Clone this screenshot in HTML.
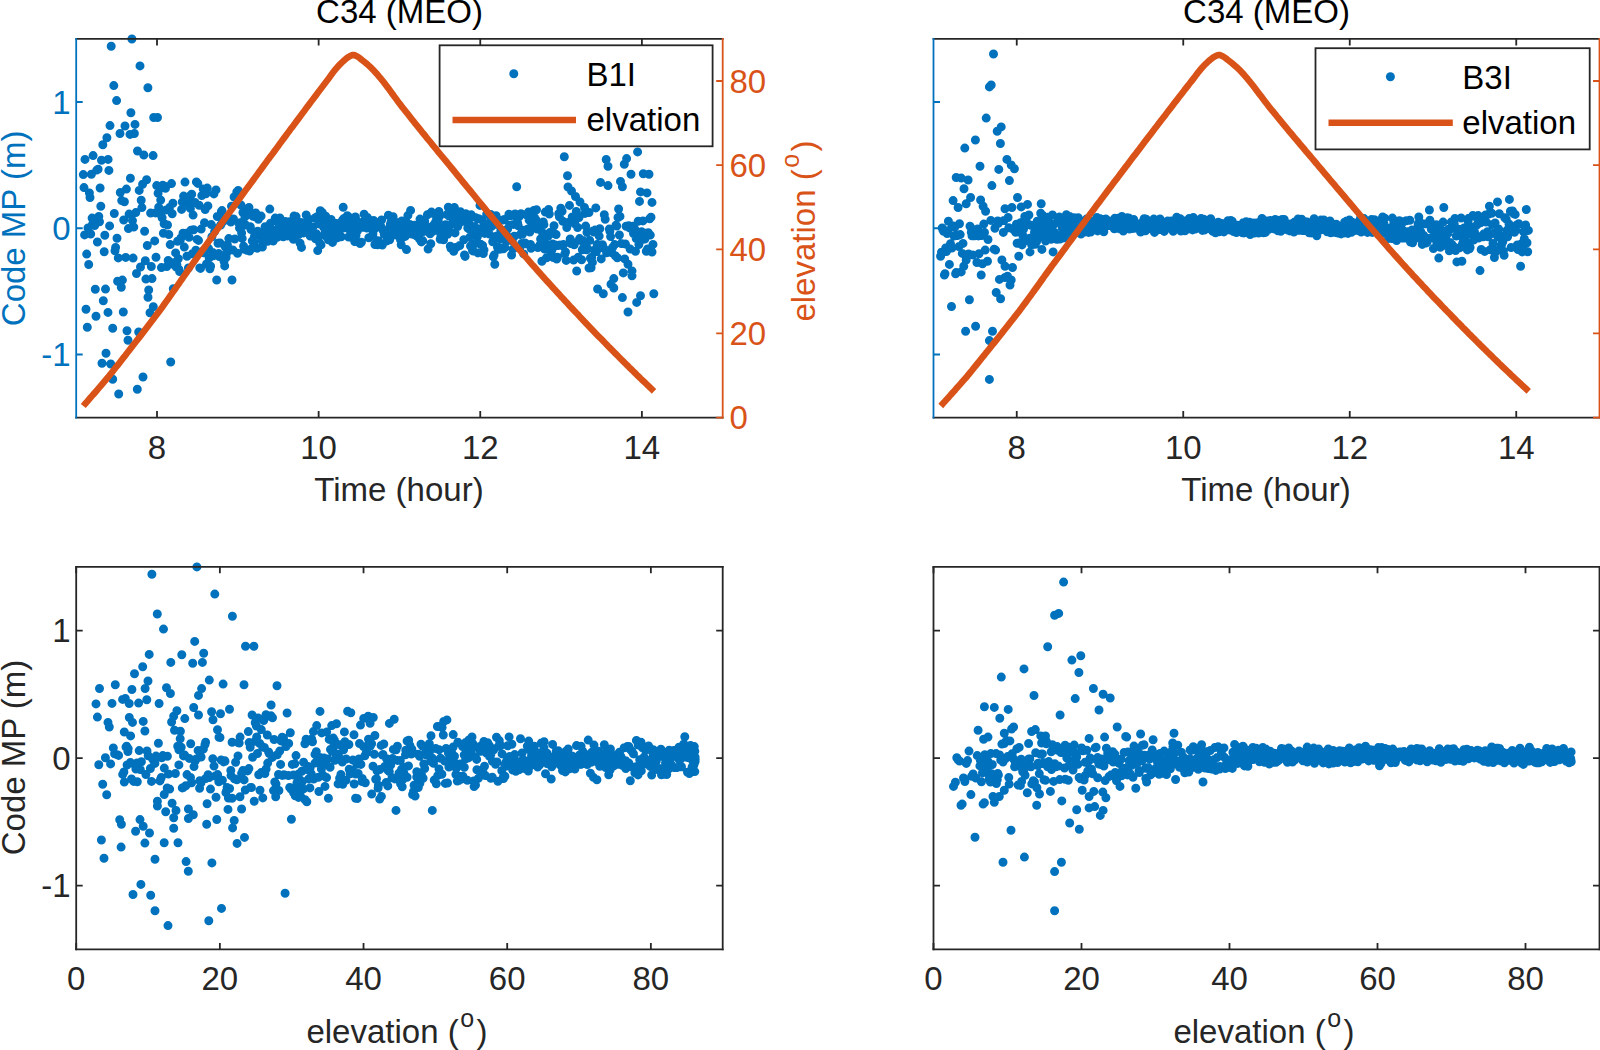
<!DOCTYPE html>
<html lang="en"><head><meta charset="utf-8"><title>C34 (MEO) code multipath</title>
<style>html,body{margin:0;padding:0;background:#fff;overflow:hidden}svg{display:block}</style></head>
<body>
<svg width="1600" height="1050" viewBox="0 0 1600 1050" font-family="'Liberation Sans', Arial, Helvetica, sans-serif" font-size="33">
<rect width="1600" height="1050" fill="#fff"/>
<g id="p1">
<path d="M83.3 174.6h0M84.0 187.6h0M84.6 234.9h0M85.0 159.4h0M86.0 309.3h0M86.7 254.1h0M87.3 327.3h0M88.0 227.9h0M88.7 264.5h0M89.4 192.9h0M90.0 197.5h0M90.7 234.0h0M91.4 174.2h0M92.1 218.1h0M92.7 224.0h0M93.1 155.6h0M94.1 225.0h0M94.7 225.6h0M95.3 289.3h0M96.0 316.3h0M96.8 170.1h0M97.4 242.0h0M98.1 169.2h0M98.8 216.5h0M99.5 221.8h0M100.1 188.0h0M100.8 206.3h0M101.5 160.3h0M102.0 363.3h0M102.8 144.8h0M103.3 300.7h0M104.2 251.7h0M104.8 235.3h0M105.5 289.1h0M106.0 353.3h0M106.9 137.8h0M108.1 159.4h0M108.0 312.4h0M108.9 170.4h0M109.6 225.9h0M110.0 125.6h0M110.7 364.0h0M111.2 46.2h0M112.7 328.3h0M112.7 379.3h0M113.8 85.6h0M114.3 213.5h0M115.0 250.8h0M115.6 247.4h0M116.6 100.6h0M117.0 238.2h0M117.6 281.3h0M118.3 257.9h0M118.7 394.0h0M120.0 133.5h0M120.3 192.5h0M121.3 287.3h0M121.7 200.6h0M122.4 280.1h0M123.3 312.0h0M123.7 220.0h0M124.4 201.7h0M125.0 126.0h0M125.7 257.4h0M126.4 189.1h0M127.0 330.7h0M128.0 340.3h0M128.4 228.6h0M129.1 214.1h0M130.0 134.4h0M130.4 178.2h0M130.9 112.8h0M131.9 39.0h0M132.5 220.6h0M133.1 258.1h0M133.8 227.1h0M134.4 133.5h0M135.0 124.4h0M135.8 212.6h0M136.5 273.5h0M137.3 389.3h0M137.5 151.0h0M138.7 332.0h0M139.2 190.4h0M140.0 65.9h0M140.5 267.0h0M141.2 200.2h0M141.9 207.6h0M142.6 184.3h0M143.0 377.0h0M143.8 155.0h0M144.6 231.3h0M145.3 260.8h0M145.9 279.1h0M146.6 179.8h0M147.3 245.5h0M147.9 87.8h0M148.0 297.3h0M148.7 290.0h0M150.0 312.7h0M150.6 213.1h0M151.3 266.5h0M152.0 278.6h0M153.3 306.7h0M153.1 155.6h0M153.7 117.5h0M154.7 240.9h0M155.4 212.9h0M156.0 257.3h0M156.7 185.6h0M157.5 117.5h0M158.1 193.3h0M158.7 207.3h0M159.4 188.7h0M160.1 213.8h0M160.7 200.1h0M161.4 267.6h0M162.1 217.8h0M162.8 185.3h0M163.4 233.2h0M164.1 223.8h0M164.8 186.2h0M165.5 188.3h0M166.1 209.9h0M166.8 266.6h0M167.5 225.0h0M168.2 260.4h0M168.8 234.5h0M169.5 207.6h0M170.2 244.6h0M170.7 362.0h0M171.5 183.6h0M172.2 213.8h0M172.9 203.2h0M173.3 288.7h0M174.2 262.5h0M174.9 265.5h0M175.6 252.9h0M176.2 267.1h0M176.9 264.8h0M177.6 241.2h0M178.3 258.8h0M178.9 269.4h0M179.6 271.5h0M180.3 240.0h0M180.9 237.9h0M181.6 209.4h0M182.3 202.0h0M183.0 233.2h0M183.6 196.1h0M184.3 247.1h0M185.0 182.1h0M185.7 203.3h0M186.3 233.3h0M187.0 256.2h0M187.7 202.5h0M188.4 268.0h0M189.0 237.2h0M189.7 196.1h0M190.4 208.4h0M191.0 230.3h0M191.7 194.2h0M192.4 253.8h0M193.1 215.1h0M193.7 229.7h0M194.4 254.1h0M195.1 202.4h0M195.8 250.2h0M196.4 181.9h0M197.1 239.4h0M197.8 183.4h0M198.5 240.4h0M199.1 205.2h0M199.8 267.9h0M200.5 268.4h0M201.2 229.1h0M201.8 195.6h0M202.5 251.4h0M203.2 188.9h0M203.8 252.7h0M204.5 222.7h0M205.2 209.6h0M205.9 193.8h0M206.5 263.9h0M207.2 188.1h0M207.9 205.9h0M208.6 248.6h0M209.2 258.0h0M209.9 268.8h0M210.6 266.2h0M211.3 224.6h0M211.9 236.7h0M212.6 252.4h0M213.3 255.8h0M213.9 193.9h0M214.6 231.6h0M215.3 228.6h0M216.0 189.9h0M216.7 280.0h0M217.3 216.5h0M218.0 243.2h0M218.7 253.6h0M219.3 256.6h0M220.0 243.0h0M220.7 225.0h0M221.4 211.4h0M222.0 210.6h0M222.7 221.7h0M223.4 219.4h0M224.0 261.3h0M224.7 265.9h0M225.4 247.0h0M226.1 257.5h0M226.7 253.0h0M227.4 244.7h0M228.1 248.2h0M228.8 238.6h0M229.4 220.8h0M230.1 218.5h0M230.8 222.0h0M231.5 206.2h0M232.0 280.0h0M232.8 250.0h0M233.5 218.9h0M234.1 197.0h0M234.8 239.0h0M235.5 196.8h0M236.2 198.1h0M236.8 192.0h0M237.5 253.3h0M238.2 190.5h0M238.9 223.3h0M239.5 228.1h0M240.2 222.7h0M240.9 205.0h0M241.6 233.0h0M242.2 238.4h0M242.9 212.5h0M243.6 246.2h0M244.3 249.2h0M244.9 216.9h0M245.6 225.0h0M246.3 212.8h0M246.9 250.2h0M247.6 210.3h0M248.3 214.3h0M249.0 207.4h0M249.6 251.0h0M250.3 226.8h0M251.0 229.6h0M251.7 248.4h0M252.3 240.9h0M253.0 216.2h0M253.7 242.5h0M254.4 236.4h0M255.0 216.8h0M255.7 213.0h0M256.4 215.7h0M257.0 248.2h0M257.7 231.3h0M258.4 219.2h0M259.1 234.3h0M259.7 232.1h0M260.4 216.6h0M261.1 216.1h0M261.8 240.8h0M262.4 247.1h0M263.1 235.0h0M263.8 236.2h0M264.5 232.6h0M265.1 226.7h0M265.8 232.7h0M266.5 240.2h0M267.1 230.1h0M267.8 241.3h0M268.5 234.7h0M269.2 234.0h0M269.8 209.1h0M270.5 223.2h0M271.2 234.0h0M271.9 233.6h0M272.5 231.5h0M273.2 241.1h0M273.9 236.3h0M274.6 230.6h0M275.2 218.1h0M275.9 233.0h0M276.6 235.2h0M277.2 237.2h0M277.9 235.4h0M278.6 223.2h0M279.3 223.7h0M279.9 218.0h0M280.6 232.6h0M281.3 223.4h0M282.0 227.4h0M282.6 228.6h0M283.3 236.8h0M284.0 234.6h0M284.7 226.4h0M285.3 221.4h0M286.0 228.4h0M286.7 226.7h0M287.4 235.9h0M288.0 234.4h0M288.7 234.2h0M289.4 221.8h0M290.0 228.6h0M290.7 229.6h0M291.4 232.1h0M292.1 226.1h0M292.7 230.6h0M293.4 239.2h0M294.1 215.9h0M294.8 231.0h0M295.4 230.8h0M296.1 216.6h0M296.8 221.3h0M297.5 228.9h0M298.1 227.2h0M298.8 234.6h0M299.5 229.5h0M300.1 243.2h0M300.8 222.5h0M301.5 247.4h0M302.2 222.9h0M302.8 230.2h0M303.5 232.9h0M304.2 225.2h0M304.9 225.7h0M305.5 223.9h0M306.2 215.0h0M306.9 224.7h0M307.6 225.2h0M308.2 232.3h0M308.9 219.2h0M309.6 228.4h0M310.2 236.1h0M310.9 230.4h0M311.6 231.2h0M312.3 234.4h0M312.9 227.0h0M313.6 232.8h0M314.3 235.6h0M315.0 218.0h0M315.6 238.7h0M316.3 233.8h0M317.0 216.7h0M317.7 250.6h0M318.3 237.1h0M319.0 223.9h0M319.7 242.9h0M320.3 210.8h0M321.0 244.9h0M321.7 213.6h0M322.4 212.6h0M323.0 218.1h0M323.7 227.2h0M324.4 220.5h0M325.1 232.8h0M325.7 216.2h0M326.4 236.5h0M327.1 231.0h0M327.8 224.7h0M328.4 239.8h0M329.1 231.3h0M329.8 223.5h0M330.5 238.6h0M331.1 219.5h0M331.8 226.8h0M332.5 242.4h0M333.1 233.1h0M333.8 236.4h0M334.5 239.0h0M335.2 230.4h0M335.8 235.1h0M336.5 223.5h0M337.2 237.7h0M337.9 226.5h0M338.5 226.7h0M339.2 224.4h0M339.9 229.8h0M340.6 229.4h0M341.2 236.7h0M341.9 226.8h0M342.6 220.0h0M343.2 207.2h0M343.9 218.5h0M344.6 227.3h0M345.3 227.7h0M345.9 223.5h0M346.6 222.5h0M347.3 215.7h0M348.0 219.1h0M348.6 237.0h0M349.3 229.3h0M350.0 217.8h0M350.7 231.8h0M351.3 233.4h0M352.0 221.4h0M352.7 227.4h0M353.3 229.5h0M354.0 231.5h0M354.7 241.6h0M355.4 216.9h0M356.0 235.4h0M356.7 228.9h0M357.4 230.9h0M358.1 222.1h0M358.7 228.4h0M359.4 228.0h0M360.1 243.5h0M360.8 227.1h0M361.4 242.3h0M362.1 224.4h0M362.8 222.3h0M363.5 227.2h0M364.1 214.2h0M364.8 225.7h0M365.5 223.3h0M366.1 225.2h0M366.8 228.1h0M367.5 217.6h0M368.2 219.8h0M368.8 237.7h0M369.5 224.2h0M370.2 224.4h0M370.9 220.7h0M371.5 225.8h0M372.2 235.4h0M372.9 234.3h0M373.6 220.4h0M374.2 229.4h0M374.9 244.5h0M375.6 225.7h0M376.2 224.7h0M376.9 240.6h0M377.6 244.8h0M378.3 240.8h0M378.9 225.5h0M379.6 226.7h0M380.3 226.0h0M381.0 226.7h0M381.6 220.0h0M382.3 245.0h0M383.0 230.3h0M383.7 231.5h0M384.3 234.4h0M385.0 233.4h0M385.7 231.6h0M386.3 232.8h0M387.0 240.9h0M387.7 229.8h0M388.4 215.3h0M389.0 236.4h0M389.7 239.7h0M390.4 224.1h0M391.1 221.6h0M391.7 219.8h0M392.4 233.2h0M393.1 216.7h0M393.8 230.9h0M394.4 230.7h0M395.1 234.9h0M395.8 226.8h0M396.4 222.5h0M397.1 224.2h0M397.8 231.4h0M398.5 227.6h0M399.1 232.0h0M399.8 225.5h0M400.5 239.8h0M401.2 244.7h0M401.8 220.9h0M402.5 237.6h0M403.2 230.7h0M403.9 231.0h0M404.5 235.2h0M405.2 236.4h0M405.9 221.5h0M406.5 249.6h0M407.2 223.1h0M407.9 215.4h0M408.6 231.2h0M409.2 232.4h0M409.9 224.4h0M410.6 210.4h0M411.3 233.9h0M411.9 226.8h0M412.6 233.6h0M413.3 229.8h0M414.0 234.5h0M414.6 225.2h0M415.3 234.6h0M416.0 229.4h0M416.7 236.0h0M417.3 234.6h0M418.0 226.5h0M418.7 229.9h0M419.3 238.8h0M420.0 219.1h0M420.7 228.8h0M421.4 241.9h0M422.0 224.3h0M422.7 240.6h0M423.4 231.6h0M424.1 231.1h0M424.7 221.0h0M425.4 227.3h0M426.1 230.9h0M426.8 226.6h0M427.4 214.7h0M428.1 249.0h0M428.8 230.1h0M429.4 228.3h0M430.1 233.7h0M430.8 243.7h0M431.5 212.1h0M432.1 231.7h0M432.8 213.4h0M433.5 225.1h0M434.2 226.3h0M434.8 223.8h0M435.5 222.1h0M436.2 216.6h0M436.9 230.2h0M437.5 226.2h0M438.2 220.4h0M438.9 211.4h0M439.5 216.3h0M440.2 239.2h0M440.9 235.9h0M441.6 229.7h0M442.2 238.2h0M442.9 231.7h0M443.6 239.8h0M444.3 233.4h0M444.9 232.5h0M445.6 224.8h0M446.3 231.4h0M447.0 214.6h0M447.6 234.3h0M448.3 207.3h0M449.0 216.1h0M449.7 231.7h0M450.3 246.2h0M451.0 248.4h0M451.7 224.1h0M452.3 215.8h0M453.0 210.9h0M453.7 251.2h0M454.4 207.5h0M455.0 232.9h0M455.7 220.0h0M456.4 247.3h0M457.1 224.5h0M457.7 226.6h0M458.4 217.2h0M459.1 223.4h0M459.8 245.5h0M460.4 211.8h0M461.1 214.9h0M461.8 221.5h0M462.4 216.6h0M463.1 218.4h0M463.8 239.8h0M464.5 255.0h0M465.1 256.4h0M465.8 213.7h0M466.5 219.9h0M467.2 221.0h0M467.8 228.0h0M468.5 222.3h0M469.2 229.1h0M469.9 237.2h0M470.5 246.1h0M471.2 214.8h0M471.9 234.0h0M472.5 250.5h0M473.2 251.0h0M473.9 244.4h0M474.6 226.5h0M475.2 217.4h0M475.9 232.0h0M476.6 231.6h0M477.3 237.0h0M477.9 252.9h0M478.6 218.7h0M479.3 231.2h0M480.0 205.4h0M480.6 244.3h0M481.3 228.4h0M482.0 220.1h0M482.6 245.5h0M483.3 253.6h0M484.0 250.0h0M484.7 233.4h0M485.3 228.1h0M486.0 231.5h0M486.7 214.1h0M487.4 225.0h0M488.0 225.2h0M488.7 223.4h0M489.4 234.1h0M490.1 216.3h0M490.7 214.5h0M491.4 226.5h0M492.1 224.4h0M492.7 241.7h0M493.4 256.9h0M494.1 255.1h0M494.8 264.3h0M495.4 224.3h0M496.1 215.8h0M496.8 235.9h0M497.5 247.2h0M498.1 220.5h0M498.8 237.3h0M499.5 249.2h0M500.2 239.3h0M500.8 230.8h0M501.5 248.6h0M502.2 230.5h0M502.9 220.1h0M503.5 248.8h0M504.2 219.6h0M504.9 247.6h0M505.5 235.2h0M506.2 241.5h0M506.9 240.4h0M507.6 229.0h0M508.2 236.9h0M508.9 214.3h0M509.6 225.2h0M510.3 215.7h0M510.9 239.5h0M511.6 255.0h0M512.3 240.8h0M513.0 249.1h0M513.6 224.4h0M514.3 236.3h0M515.0 214.0h0M515.6 216.3h0M516.3 214.6h0M516.7 186.8h0M517.7 223.1h0M518.3 225.9h0M519.0 216.7h0M519.7 248.4h0M520.4 234.5h0M521.0 213.8h0M521.7 243.4h0M522.4 234.3h0M523.1 244.1h0M523.7 253.9h0M524.4 230.2h0M525.1 242.9h0M525.7 243.7h0M526.4 214.8h0M527.1 214.4h0M527.8 229.1h0M528.4 212.1h0M529.1 220.0h0M529.8 232.1h0M530.5 244.4h0M531.1 248.3h0M531.8 224.6h0M532.5 224.1h0M533.2 224.1h0M533.8 210.5h0M534.5 217.4h0M535.2 221.2h0M535.9 219.7h0M536.5 209.8h0M537.2 229.1h0M537.9 247.6h0M538.5 246.9h0M539.2 228.1h0M539.9 245.0h0M540.6 239.0h0M541.2 227.6h0M541.9 261.3h0M542.6 233.0h0M543.3 221.9h0M543.9 224.6h0M544.6 249.1h0M545.3 212.1h0M546.0 243.8h0M546.6 257.8h0M547.3 248.9h0M548.0 236.3h0M548.6 209.5h0M549.3 214.0h0M550.0 232.4h0M550.7 251.4h0M551.3 254.5h0M552.0 249.8h0M552.7 244.1h0M553.4 257.6h0M554.0 225.8h0M554.7 233.8h0M555.4 245.0h0M556.1 234.5h0M556.7 259.0h0M557.4 257.2h0M558.1 245.6h0M558.7 213.8h0M559.4 216.7h0M560.1 244.9h0M560.8 208.3h0M561.4 245.4h0M562.1 211.2h0M562.8 221.3h0M563.5 244.5h0M564.3 156.7h0M564.8 253.9h0M565.5 251.9h0M566.2 260.4h0M566.8 227.5h0M567.5 175.7h0M568.0 187.0h0M568.8 222.2h0M569.5 205.4h0M570.2 239.0h0M570.9 243.6h0M571.5 191.0h0M572.2 217.0h0M572.9 242.6h0M573.6 260.1h0M574.2 244.7h0M574.9 223.7h0M575.5 196.5h0M576.3 211.5h0M576.7 271.0h0M577.6 227.5h0M578.3 257.3h0M579.0 217.6h0M579.6 238.6h0M580.0 202.0h0M581.0 240.5h0M581.6 259.8h0M582.3 249.8h0M583.0 240.6h0M583.7 243.4h0M584.5 207.5h0M585.0 213.4h0M585.7 226.1h0M586.4 249.7h0M587.0 232.4h0M587.7 248.8h0M589.0 268.0h0M589.0 212.5h0M589.7 240.4h0M590.4 258.3h0M591.1 267.7h0M591.7 257.2h0M592.4 262.4h0M593.1 230.9h0M593.8 232.0h0M594.4 250.2h0M595.1 230.1h0M595.8 207.9h0M596.5 251.6h0M597.1 244.6h0M597.6 289.0h0M598.5 246.1h0M599.2 236.1h0M599.8 228.8h0M600.5 182.4h0M601.2 258.9h0M601.8 247.5h0M602.5 244.8h0M603.3 293.8h0M603.9 248.4h0M604.3 214.8h0M605.2 219.3h0M606.2 159.5h0M606.6 252.7h0M607.2 250.6h0M608.0 185.6h0M608.0 166.2h0M609.3 229.1h0M609.9 231.3h0M610.6 236.6h0M611.0 284.3h0M611.9 252.7h0M612.6 247.4h0M613.8 288.0h0M613.8 278.6h0M614.6 244.6h0M615.3 255.7h0M616.0 225.3h0M616.7 226.0h0M617.3 257.8h0M618.0 217.5h0M618.6 209.0h0M619.4 235.0h0M620.0 216.4h0M620.5 181.4h0M621.4 243.5h0M622.4 186.8h0M622.4 297.6h0M623.3 272.9h0M624.3 164.3h0M624.7 258.9h0M625.4 244.0h0M626.1 226.3h0M626.6 158.6h0M628.0 264.3h0M628.0 312.0h0M628.8 225.8h0M629.5 227.9h0M630.1 249.0h0M631.0 174.2h0M632.0 275.7h0M632.0 271.0h0M632.8 226.3h0M633.5 233.5h0M634.2 231.3h0M634.8 229.1h0M635.5 251.3h0M636.2 238.6h0M636.7 302.4h0M637.6 151.9h0M638.2 221.2h0M638.9 244.5h0M639.5 201.4h0M640.5 295.7h0M640.5 191.9h0M641.6 231.8h0M642.3 239.5h0M642.9 220.9h0M643.3 173.8h0M644.3 233.1h0M644.9 239.1h0M645.6 235.0h0M646.3 251.3h0M647.0 192.9h0M647.6 248.9h0M648.3 232.7h0M649.0 174.2h0M649.7 218.8h0M650.3 235.1h0M651.0 217.3h0M652.0 202.4h0M652.0 252.0h0M653.0 244.4h0M653.8 293.8h0" stroke="#0072BD" stroke-width="9.0" stroke-linecap="round" fill="none"/>
<path d="M83.3 406.0L85.2 403.7L87.1 401.6L89.0 399.4L90.9 397.2L92.8 395.0L94.8 392.8L96.7 390.6L98.6 388.3L100.5 386.1L102.4 383.9L104.3 381.7L106.2 379.4L108.1 377.2L110.0 374.8L111.9 372.4L113.8 370.0L115.7 367.6L117.7 365.1L119.6 362.7L121.5 360.3L123.4 357.8L125.3 355.4L127.2 352.9L129.1 350.5L131.0 348.0L132.9 345.6L134.8 343.1L136.7 340.6L138.7 338.2L140.6 335.7L142.5 333.2L144.4 330.7L146.3 328.2L148.2 325.7L150.1 323.2L152.0 320.7L153.9 318.2L155.8 315.7L157.7 313.2L159.6 310.7L161.6 308.1L163.5 305.4L165.4 302.7L167.3 300.1L169.2 297.4L171.1 294.7L173.0 292.0L174.9 289.3L176.8 286.5L178.7 283.8L180.6 281.0L182.6 278.3L184.5 275.5L186.4 272.8L188.3 270.0L190.2 267.3L192.1 264.6L194.0 262.0L195.9 259.3L197.8 256.7L199.7 254.0L201.6 251.4L203.5 248.7L205.5 246.0L207.4 243.3L209.3 240.7L211.2 238.0L213.1 235.3L215.0 232.7L216.9 230.0L218.8 227.3L220.7 224.7L222.6 222.0L224.5 219.3L226.5 216.7L228.4 214.0L230.3 211.4L232.2 208.8L234.1 206.1L236.0 203.5L237.9 200.9L239.8 198.3L241.7 195.6L243.6 193.0L245.5 190.4L247.4 187.8L249.4 185.2L251.3 182.6L253.2 180.0L255.1 177.4L257.0 174.8L258.9 172.2L260.8 169.6L262.7 167.0L264.6 164.4L266.5 161.8L268.4 159.2L270.4 156.6L272.3 154.1L274.2 151.5L276.1 148.9L278.0 146.3L279.9 143.7L281.8 141.1L283.7 138.5L285.6 136.0L287.5 133.4L289.4 130.8L291.3 128.2L293.3 125.7L295.2 123.1L297.1 120.5L299.0 118.0L300.9 115.4L302.8 112.9L304.7 110.3L306.6 107.7L308.5 105.2L310.4 102.6L312.3 100.1L314.3 97.5L316.2 95.0L318.1 92.4L320.0 89.9L321.9 87.4L323.8 84.9L325.7 82.4L327.6 79.9L329.5 77.3L331.4 74.7L333.3 72.1L335.2 69.7L337.2 67.4L339.1 65.3L341.0 63.3L342.9 61.5L344.8 59.8L346.7 58.2L348.6 56.8L350.5 55.8L352.4 55.1L354.3 55.1L356.2 55.9L358.2 57.0L360.1 58.4L362.0 60.0L363.9 61.5L365.8 63.0L367.7 64.7L369.6 66.4L371.5 68.2L373.4 70.1L375.3 72.2L377.2 74.3L379.1 76.6L381.1 78.9L383.0 81.3L384.9 83.8L386.8 86.3L388.7 88.8L390.6 91.4L392.5 94.0L394.4 96.6L396.3 99.2L398.2 101.8L400.1 104.3L402.1 106.9L404.0 109.3L405.9 111.7L407.8 114.1L409.7 116.5L411.6 118.9L413.5 121.3L415.4 123.7L417.3 126.1L419.2 128.4L421.1 130.8L423.0 133.2L425.0 135.5L426.9 137.9L428.8 140.2L430.7 142.5L432.6 144.9L434.5 147.2L436.4 149.5L438.3 151.9L440.2 154.2L442.1 156.5L444.0 158.8L446.0 161.2L447.9 163.5L449.8 165.8L451.7 168.1L453.6 170.4L455.5 172.8L457.4 175.1L459.3 177.4L461.2 179.8L463.1 182.1L465.0 184.4L466.9 186.7L468.9 189.1L470.8 191.4L472.7 193.7L474.6 196.0L476.5 198.4L478.4 200.7L480.3 203.0L482.2 205.3L484.1 207.6L486.0 210.0L487.9 212.3L489.9 214.6L491.8 216.9L493.7 219.2L495.6 221.5L497.5 223.8L499.4 226.1L501.3 228.3L503.2 230.6L505.1 232.9L507.0 235.2L508.9 237.4L510.8 239.7L512.8 241.9L514.7 244.2L516.6 246.4L518.5 248.7L520.4 250.9L522.3 253.1L524.2 255.3L526.1 257.5L528.0 259.7L529.9 261.9L531.8 264.1L533.8 266.3L535.7 268.4L537.6 270.6L539.5 272.7L541.4 274.9L543.3 277.0L545.2 279.1L547.1 281.2L549.0 283.3L550.9 285.4L552.8 287.5L554.7 289.6L556.7 291.7L558.6 293.8L560.5 295.9L562.4 297.9L564.3 300.0L566.2 302.1L568.1 304.1L570.0 306.2L571.9 308.2L573.8 310.3L575.7 312.3L577.7 314.3L579.6 316.4L581.5 318.4L583.4 320.4L585.3 322.4L587.2 324.4L589.1 326.4L591.0 328.4L592.9 330.4L594.8 332.4L596.7 334.4L598.6 336.4L600.6 338.3L602.5 340.3L604.4 342.3L606.3 344.2L608.2 346.2L610.1 348.1L612.0 350.0L613.9 352.0L615.8 353.9L617.7 355.8L619.6 357.7L621.6 359.7L623.5 361.6L625.4 363.5L627.3 365.4L629.2 367.3L631.1 369.1L633.0 371.0L634.9 372.9L636.8 374.8L638.7 376.6L640.6 378.5L642.5 380.3L644.5 382.2L646.4 384.0L648.3 385.8L650.2 387.7L652.1 389.5L654.0 391.3" stroke="#D95319" stroke-width="6.5" stroke-linejoin="round" stroke-linecap="butt" fill="none"/>
<path d="M75.3 38.9H723.6" stroke="#262626" stroke-width="1.8" fill="none"/><path d="M157.01 38.9v6.5M318.64 38.9v6.5M480.26 38.9v6.5M641.89 38.9v6.5" stroke="#262626" stroke-width="1.8" fill="none"/><path d="M75.3 417.6H723.6" stroke="#262626" stroke-width="1.8" fill="none"/><path d="M157.01 417.6v-6.5M318.64 417.6v-6.5M480.26 417.6v-6.5M641.89 417.6v-6.5" stroke="#262626" stroke-width="1.8" fill="none"/><path d="M76.2 38V418.5" stroke="#0072BD" stroke-width="1.8" fill="none"/><path d="M76.2 354.48h6.5M76.2 228.25h6.5M76.2 102.02h6.5" stroke="#0072BD" stroke-width="1.8" fill="none"/><path d="M722.7 38V418.5" stroke="#D95319" stroke-width="1.8" fill="none"/><path d="M722.7 417.6h-6.5M722.7 333.44h-6.5M722.7 249.29h-6.5M722.7 165.13h-6.5M722.7 80.98h-6.5" stroke="#D95319" stroke-width="1.8" fill="none"/>
<text x="157.01" y="459.3" text-anchor="middle" fill="#262626">8</text><text x="318.64" y="459.3" text-anchor="middle" fill="#262626">10</text><text x="480.26" y="459.3" text-anchor="middle" fill="#262626">12</text><text x="641.89" y="459.3" text-anchor="middle" fill="#262626">14</text>
<text x="70.5" y="366.18" text-anchor="end" fill="#0072BD">-1</text><text x="70.5" y="239.95" text-anchor="end" fill="#0072BD">0</text><text x="70.5" y="113.72" text-anchor="end" fill="#0072BD">1</text>
<text x="729.5" y="429.3" text-anchor="start" fill="#D95319">0</text><text x="729.5" y="345.14" text-anchor="start" fill="#D95319">20</text><text x="729.5" y="260.99" text-anchor="start" fill="#D95319">40</text><text x="729.5" y="176.83" text-anchor="start" fill="#D95319">60</text><text x="729.5" y="92.68" text-anchor="start" fill="#D95319">80</text>
<text x="399.5" y="23.3" text-anchor="middle" fill="#000">C34 (MEO)</text>
<text x="399" y="501.2" text-anchor="middle" fill="#262626">Time (hour)</text>
<text transform="translate(24.5 228.4) rotate(-90)" text-anchor="middle" fill="#0072BD">Code MP (m)</text>
<text transform="translate(814.8 231) rotate(-90)" text-anchor="middle" fill="#D95319">elevation (<tspan font-size="25" dx="1.5" dy="-16">o</tspan><tspan dx="2.5" dy="16">)</tspan></text>
<rect x="439.6" y="45.3" width="273" height="101" fill="#fff" stroke="#262626" stroke-width="1.8"/>
<path d="M513.8 73.8h0" stroke="#0072BD" stroke-width="9.0" stroke-linecap="round"/>
<path d="M452.5 120H576" stroke="#D95319" stroke-width="6.5"/>
<text x="586.5" y="86" font-size="33" fill="#000">B1I</text>
<text x="586.5" y="131" font-size="33" fill="#000">elvation</text>
</g>
<g id="p2">
<path d="M940.6 256.2h0M941.5 252.2h0M942.2 228.0h0M942.9 230.0h0M943.6 231.2h0M944.4 275.0h0M945.0 273.8h0M945.7 247.9h0M946.4 251.5h0M947.1 233.5h0M947.8 230.7h0M948.4 221.3h0M949.4 264.4h0M949.8 246.3h0M950.5 243.8h0M951.5 306.5h0M951.9 248.0h0M952.6 225.7h0M953.1 200.6h0M954.0 236.0h0M954.7 227.3h0M955.6 273.8h0M956.2 177.5h0M956.2 272.5h0M957.5 235.6h0M958.1 207.5h0M958.9 246.6h0M959.5 223.7h0M960.2 234.6h0M961.2 271.9h0M961.2 178.1h0M962.3 253.4h0M963.0 243.4h0M963.8 266.2h0M964.0 188.8h0M964.8 148.1h0M965.6 331.2h0M966.2 260.0h0M966.2 203.7h0M968.1 180.0h0M968.6 254.0h0M969.4 299.8h0M970.0 226.3h0M970.6 197.5h0M971.3 232.2h0M972.0 235.7h0M972.7 254.9h0M973.4 233.1h0M974.1 229.5h0M974.8 235.7h0M975.4 140.0h0M975.6 326.2h0M976.9 262.5h0M977.6 229.0h0M978.3 235.9h0M979.0 253.8h0M980.0 166.2h0M980.6 200.0h0M981.2 275.0h0M981.7 235.6h0M982.5 263.8h0M983.1 206.2h0M983.8 224.1h0M984.5 232.5h0M985.2 250.1h0M985.6 211.2h0M986.2 118.1h0M987.5 261.2h0M988.0 239.5h0M989.4 86.9h0M989.4 340.6h0M989.4 379.4h0M990.8 220.4h0M991.2 85.0h0M991.9 185.6h0M992.5 331.2h0M993.5 54.0h0M994.2 249.3h0M994.9 228.2h0M995.6 250.1h0M996.2 292.5h0M997.2 131.2h0M997.7 220.9h0M998.4 223.2h0M998.8 169.4h0M999.4 279.4h0M1000.4 143.5h0M1000.6 298.8h0M1001.2 126.9h0M1001.9 260.0h0M1003.3 232.4h0M1003.9 220.5h0M1005.0 277.5h0M1005.0 208.7h0M1005.0 266.2h0M1006.9 159.4h0M1007.5 276.2h0M1008.1 217.5h0M1008.8 227.7h0M1009.4 180.6h0M1010.0 285.0h0M1011.2 165.0h0M1011.2 280.0h0M1011.9 207.5h0M1012.5 267.5h0M1013.7 229.8h0M1014.4 168.8h0M1015.0 228.4h0M1015.7 232.2h0M1016.4 224.2h0M1017.1 243.2h0M1017.5 197.5h0M1018.8 256.2h0M1019.2 229.3h0M1019.9 242.8h0M1020.6 222.7h0M1021.2 206.9h0M1022.0 244.9h0M1022.7 235.3h0M1023.4 229.4h0M1024.1 227.5h0M1024.8 216.4h0M1025.5 221.6h0M1026.1 220.7h0M1026.8 240.6h0M1027.5 204.4h0M1028.2 215.5h0M1028.9 215.0h0M1029.6 238.3h0M1030.0 251.9h0M1031.0 225.2h0M1031.7 244.9h0M1032.4 243.4h0M1033.1 225.6h0M1033.8 225.2h0M1034.5 232.2h0M1035.2 244.2h0M1035.9 229.7h0M1036.6 241.6h0M1037.2 221.3h0M1037.9 237.7h0M1038.6 233.4h0M1039.3 227.8h0M1040.0 236.0h0M1040.7 213.3h0M1041.2 203.7h0M1041.9 249.4h0M1042.8 215.5h0M1043.5 231.2h0M1044.2 222.4h0M1044.9 226.8h0M1045.6 241.1h0M1046.3 234.7h0M1047.0 229.6h0M1047.7 228.9h0M1048.3 220.4h0M1049.0 217.1h0M1049.7 237.3h0M1050.4 229.0h0M1051.1 239.3h0M1051.8 224.2h0M1052.5 215.0h0M1053.1 251.9h0M1053.9 224.2h0M1054.6 232.4h0M1055.3 238.6h0M1056.0 234.4h0M1056.7 239.2h0M1057.4 239.3h0M1058.1 217.8h0M1058.8 237.0h0M1059.4 217.1h0M1060.1 239.0h0M1060.8 223.9h0M1061.5 237.8h0M1062.2 227.8h0M1062.9 238.1h0M1063.6 230.9h0M1064.3 235.4h0M1065.0 237.8h0M1065.7 222.5h0M1066.4 214.7h0M1067.1 229.4h0M1067.8 218.5h0M1068.5 222.3h0M1069.2 223.9h0M1069.9 216.6h0M1070.5 236.0h0M1071.2 227.9h0M1071.9 236.4h0M1072.6 228.9h0M1073.3 227.2h0M1074.0 217.8h0M1074.7 227.4h0M1075.4 218.5h0M1076.1 221.1h0M1076.8 231.9h0M1077.5 228.2h0M1078.2 217.7h0M1078.9 227.2h0M1079.6 227.6h0M1080.3 224.0h0M1081.0 234.1h0M1081.6 231.8h0M1082.3 227.8h0M1083.0 228.4h0M1083.7 232.4h0M1084.4 229.7h0M1085.1 228.2h0M1085.8 224.7h0M1086.5 219.1h0M1087.2 225.0h0M1087.9 225.2h0M1088.6 232.4h0M1089.3 229.8h0M1090.0 225.2h0M1090.7 232.1h0M1091.4 226.4h0M1092.1 224.9h0M1092.7 226.7h0M1093.4 221.2h0M1094.1 227.4h0M1094.8 227.4h0M1095.5 226.4h0M1096.2 221.7h0M1096.9 217.4h0M1097.6 230.9h0M1098.3 224.3h0M1099.0 225.4h0M1099.7 218.4h0M1100.4 224.6h0M1101.1 229.5h0M1101.8 219.3h0M1102.5 228.7h0M1103.2 226.7h0M1103.8 231.7h0M1104.5 227.4h0M1105.2 224.9h0M1105.9 219.1h0M1106.6 220.8h0M1107.3 221.9h0M1108.0 220.7h0M1108.7 223.6h0M1109.4 225.5h0M1110.1 222.9h0M1110.8 220.9h0M1111.5 224.0h0M1112.2 221.5h0M1112.9 222.2h0M1113.6 223.8h0M1114.3 228.8h0M1114.9 218.2h0M1115.6 224.7h0M1116.3 221.7h0M1117.0 226.3h0M1117.7 220.0h0M1118.4 228.3h0M1119.1 218.0h0M1119.8 226.9h0M1120.5 229.1h0M1121.2 228.5h0M1121.9 216.4h0M1122.6 222.9h0M1123.3 231.0h0M1124.0 225.9h0M1124.7 220.2h0M1125.4 228.3h0M1126.0 224.4h0M1126.7 225.9h0M1127.4 217.8h0M1128.1 227.2h0M1128.8 217.9h0M1129.5 229.1h0M1130.2 228.7h0M1130.9 224.2h0M1131.6 219.8h0M1132.3 228.5h0M1133.0 222.3h0M1133.7 219.4h0M1134.4 228.2h0M1135.1 223.1h0M1135.8 223.0h0M1136.5 226.9h0M1137.1 225.4h0M1137.8 226.1h0M1138.5 226.3h0M1139.2 226.5h0M1139.9 225.8h0M1140.6 232.0h0M1141.3 225.7h0M1142.0 224.1h0M1142.7 227.7h0M1143.4 220.6h0M1144.1 218.8h0M1144.8 220.6h0M1145.5 230.8h0M1146.2 219.2h0M1146.9 226.3h0M1147.6 222.2h0M1148.2 227.9h0M1148.9 224.2h0M1149.6 221.1h0M1150.3 224.1h0M1151.0 223.4h0M1151.7 227.8h0M1152.4 229.5h0M1153.1 223.1h0M1153.8 219.1h0M1154.5 232.4h0M1155.2 226.3h0M1155.9 228.1h0M1156.6 229.7h0M1157.3 223.3h0M1158.0 220.8h0M1158.7 229.5h0M1159.3 229.5h0M1160.0 219.0h0M1160.7 221.4h0M1161.4 222.4h0M1162.1 225.2h0M1162.8 224.7h0M1163.5 227.3h0M1164.2 231.4h0M1164.9 229.1h0M1165.6 225.6h0M1166.3 223.5h0M1167.0 226.7h0M1167.7 220.9h0M1168.4 222.3h0M1169.1 228.0h0M1169.8 225.8h0M1170.4 226.5h0M1171.1 221.0h0M1171.8 222.5h0M1172.5 228.8h0M1173.2 231.3h0M1173.9 221.3h0M1174.6 228.3h0M1175.3 222.3h0M1176.0 225.3h0M1176.7 217.3h0M1177.4 226.6h0M1178.1 220.0h0M1178.8 225.8h0M1179.5 218.6h0M1180.2 218.7h0M1180.9 231.1h0M1181.5 225.3h0M1182.2 223.2h0M1182.9 227.3h0M1183.6 224.9h0M1184.3 229.1h0M1185.0 230.7h0M1185.7 220.7h0M1186.4 223.4h0M1187.1 227.0h0M1187.8 228.5h0M1188.5 221.0h0M1189.2 218.5h0M1189.9 223.1h0M1190.6 229.0h0M1191.3 228.3h0M1192.0 222.5h0M1192.6 229.9h0M1193.3 217.5h0M1194.0 223.2h0M1194.7 222.5h0M1195.4 229.1h0M1196.1 224.4h0M1196.8 225.9h0M1197.5 223.5h0M1198.2 225.3h0M1198.9 227.6h0M1199.6 223.4h0M1200.3 223.7h0M1201.0 218.6h0M1201.7 229.3h0M1202.4 230.4h0M1203.1 229.1h0M1203.7 219.2h0M1204.4 230.1h0M1205.1 224.2h0M1205.8 226.8h0M1206.5 224.0h0M1207.2 225.9h0M1207.9 228.5h0M1208.6 225.2h0M1209.3 222.0h0M1210.0 220.1h0M1210.7 218.7h0M1211.4 222.2h0M1212.1 227.3h0M1212.8 231.4h0M1213.5 222.9h0M1214.2 230.2h0M1214.8 227.3h0M1215.5 232.8h0M1216.2 227.6h0M1216.9 230.0h0M1217.6 230.8h0M1218.3 222.2h0M1219.0 231.8h0M1219.7 231.0h0M1220.4 228.6h0M1221.1 229.3h0M1221.8 223.6h0M1222.5 231.1h0M1223.2 227.5h0M1223.9 231.9h0M1224.6 230.7h0M1225.3 227.0h0M1225.9 226.7h0M1226.6 227.3h0M1227.3 226.8h0M1228.0 220.8h0M1228.7 226.9h0M1229.4 226.6h0M1230.1 230.0h0M1230.8 220.5h0M1231.5 223.9h0M1232.2 221.3h0M1232.9 226.7h0M1233.6 231.6h0M1234.3 227.2h0M1235.0 225.6h0M1235.7 229.2h0M1236.4 232.5h0M1237.0 230.9h0M1237.7 225.2h0M1238.4 226.0h0M1239.1 229.5h0M1239.8 225.7h0M1240.5 226.5h0M1241.2 231.8h0M1241.9 230.1h0M1242.6 232.8h0M1243.3 222.8h0M1244.0 232.9h0M1244.7 232.5h0M1245.4 229.8h0M1246.1 221.8h0M1246.8 229.8h0M1247.5 231.1h0M1248.1 223.9h0M1248.8 224.0h0M1249.5 222.3h0M1250.2 234.5h0M1250.9 233.5h0M1251.6 227.4h0M1252.3 224.9h0M1253.0 225.7h0M1253.7 223.0h0M1254.4 233.1h0M1255.1 228.4h0M1255.8 227.2h0M1256.5 223.1h0M1257.2 228.0h0M1257.9 227.5h0M1258.6 233.0h0M1259.2 222.5h0M1259.9 222.5h0M1260.6 221.7h0M1261.3 230.3h0M1262.0 218.5h0M1262.7 230.8h0M1263.4 232.7h0M1264.1 229.7h0M1264.8 231.3h0M1265.5 232.4h0M1266.2 229.2h0M1266.9 221.0h0M1267.6 225.2h0M1268.3 224.6h0M1269.0 229.4h0M1269.7 228.5h0M1270.3 220.4h0M1271.0 227.2h0M1271.7 226.7h0M1272.4 223.0h0M1273.1 224.8h0M1273.8 220.9h0M1274.5 229.0h0M1275.2 219.5h0M1275.9 221.1h0M1276.6 220.1h0M1277.3 226.0h0M1278.0 230.7h0M1278.7 230.6h0M1279.4 224.9h0M1280.1 227.3h0M1280.8 231.2h0M1281.4 227.3h0M1282.1 219.4h0M1282.8 229.3h0M1283.5 222.4h0M1284.2 219.4h0M1284.9 229.2h0M1285.6 222.8h0M1286.3 228.1h0M1287.0 228.4h0M1287.7 228.4h0M1288.4 230.2h0M1289.1 226.2h0M1289.8 230.9h0M1290.5 223.9h0M1291.2 230.1h0M1291.9 227.7h0M1292.5 226.1h0M1293.2 230.2h0M1293.9 232.0h0M1294.6 222.1h0M1295.3 226.3h0M1296.0 228.1h0M1296.7 226.5h0M1297.4 221.2h0M1298.1 219.0h0M1298.8 230.3h0M1299.5 220.6h0M1300.2 221.4h0M1300.9 226.4h0M1301.6 219.2h0M1302.3 230.5h0M1303.0 224.6h0M1303.6 226.7h0M1304.3 230.6h0M1305.0 221.7h0M1305.7 224.8h0M1306.4 222.2h0M1307.1 222.1h0M1307.8 227.2h0M1308.5 229.2h0M1309.2 232.7h0M1309.9 227.5h0M1310.6 227.7h0M1311.3 232.9h0M1312.0 230.8h0M1312.7 223.8h0M1313.4 227.0h0M1314.1 218.8h0M1314.7 220.6h0M1315.4 230.8h0M1316.1 233.6h0M1316.8 235.8h0M1317.5 231.4h0M1318.2 222.3h0M1318.9 227.9h0M1319.6 230.4h0M1320.3 225.6h0M1321.0 220.1h0M1321.7 227.9h0M1322.4 229.5h0M1323.1 225.1h0M1323.8 219.9h0M1324.5 226.4h0M1325.2 222.2h0M1325.8 229.0h0M1326.5 223.8h0M1327.2 231.8h0M1327.9 221.9h0M1328.6 223.1h0M1329.3 231.6h0M1330.0 221.0h0M1330.7 232.8h0M1331.4 223.2h0M1332.1 226.2h0M1332.8 230.6h0M1333.5 232.2h0M1334.2 228.7h0M1334.9 228.2h0M1335.6 230.0h0M1336.3 224.2h0M1336.9 232.7h0M1337.6 228.6h0M1338.3 229.4h0M1339.0 233.2h0M1339.7 227.3h0M1340.4 228.9h0M1341.1 233.9h0M1341.8 229.7h0M1342.5 231.2h0M1343.2 226.1h0M1343.9 233.0h0M1344.6 222.3h0M1345.3 222.5h0M1346.0 224.3h0M1346.7 220.9h0M1347.4 226.3h0M1348.0 233.4h0M1348.7 220.4h0M1349.4 220.0h0M1350.1 224.2h0M1350.8 225.5h0M1351.5 232.2h0M1352.2 222.3h0M1352.9 224.8h0M1353.6 230.8h0M1354.3 229.0h0M1355.0 223.9h0M1355.7 225.3h0M1356.4 223.5h0M1357.1 224.6h0M1357.8 230.6h0M1358.5 225.9h0M1359.1 221.1h0M1359.8 222.8h0M1360.5 218.2h0M1361.2 232.1h0M1361.9 227.0h0M1362.6 220.3h0M1363.3 222.3h0M1364.0 218.6h0M1364.7 229.1h0M1365.4 230.4h0M1366.1 231.3h0M1366.8 223.7h0M1367.5 232.4h0M1368.2 223.2h0M1368.9 224.0h0M1369.6 221.5h0M1370.2 231.4h0M1370.9 225.7h0M1371.6 219.4h0M1372.3 232.4h0M1373.0 224.5h0M1373.7 223.6h0M1374.4 219.8h0M1375.1 223.9h0M1375.8 222.5h0M1376.5 228.9h0M1377.2 227.2h0M1377.9 229.7h0M1378.6 223.6h0M1379.3 228.3h0M1380.0 220.5h0M1380.7 233.9h0M1381.3 220.7h0M1382.0 226.9h0M1382.7 216.9h0M1383.4 230.6h0M1384.1 224.2h0M1384.8 218.2h0M1385.5 233.5h0M1386.2 228.3h0M1386.9 228.3h0M1387.6 230.2h0M1388.3 238.5h0M1389.0 229.9h0M1389.7 232.4h0M1390.4 234.9h0M1391.1 232.4h0M1391.8 238.6h0M1392.4 218.1h0M1393.1 225.6h0M1393.8 221.4h0M1394.5 236.7h0M1395.2 238.7h0M1395.9 227.8h0M1396.6 240.5h0M1397.3 229.5h0M1398.0 233.7h0M1398.7 232.3h0M1399.4 220.8h0M1400.1 230.1h0M1400.8 221.8h0M1401.5 224.2h0M1402.2 238.1h0M1402.9 222.0h0M1403.5 236.8h0M1404.2 231.3h0M1404.9 238.1h0M1405.6 232.6h0M1406.3 220.8h0M1407.0 236.9h0M1407.7 237.2h0M1408.4 232.6h0M1409.1 231.5h0M1409.8 220.2h0M1410.5 242.1h0M1411.2 239.9h0M1411.9 230.1h0M1412.6 242.7h0M1413.3 239.4h0M1414.0 230.2h0M1414.6 235.2h0M1415.3 237.3h0M1416.0 232.8h0M1416.7 231.3h0M1417.4 233.1h0M1418.1 223.7h0M1418.8 217.0h0M1419.5 221.5h0M1420.2 238.8h0M1420.9 232.0h0M1421.6 224.2h0M1422.3 244.4h0M1423.0 238.9h0M1423.7 235.4h0M1424.4 243.2h0M1425.1 237.6h0M1425.7 223.7h0M1426.4 242.9h0M1427.1 242.0h0M1427.8 238.2h0M1428.5 239.3h0M1429.4 210.0h0M1429.9 220.2h0M1430.6 226.1h0M1431.3 229.2h0M1432.0 237.8h0M1432.7 237.8h0M1433.4 248.6h0M1434.1 225.4h0M1434.8 227.4h0M1435.5 230.8h0M1436.2 224.8h0M1436.8 242.5h0M1437.5 225.8h0M1438.2 233.8h0M1438.8 258.1h0M1439.6 225.0h0M1440.3 247.2h0M1441.0 235.2h0M1441.7 243.9h0M1442.4 230.7h0M1443.1 222.1h0M1443.8 207.5h0M1444.5 243.0h0M1445.2 238.5h0M1445.9 238.3h0M1446.6 245.8h0M1447.3 243.1h0M1447.9 233.4h0M1448.6 229.2h0M1449.3 250.7h0M1450.0 242.5h0M1450.7 229.0h0M1451.4 222.0h0M1452.1 244.7h0M1452.8 225.3h0M1453.5 246.5h0M1454.2 223.7h0M1454.9 218.4h0M1455.6 250.5h0M1456.3 236.1h0M1456.9 261.9h0M1457.7 229.1h0M1458.4 234.5h0M1459.0 234.2h0M1459.7 247.7h0M1460.4 229.6h0M1461.1 218.0h0M1461.9 261.2h0M1462.5 243.7h0M1463.2 239.3h0M1463.9 228.1h0M1464.6 231.0h0M1465.3 240.9h0M1466.0 232.6h0M1466.7 245.4h0M1467.4 249.9h0M1468.1 221.0h0M1468.8 218.2h0M1469.5 248.7h0M1470.1 247.4h0M1470.8 234.3h0M1471.5 227.0h0M1472.2 230.5h0M1472.9 215.4h0M1473.6 240.0h0M1474.3 230.9h0M1475.0 233.5h0M1475.7 235.0h0M1476.4 217.4h0M1477.1 224.7h0M1478.1 215.6h0M1478.5 238.1h0M1479.2 221.9h0M1480.0 270.6h0M1480.6 222.8h0M1481.2 249.5h0M1481.9 236.1h0M1482.6 216.8h0M1483.3 236.7h0M1484.0 233.8h0M1484.7 251.4h0M1485.4 215.1h0M1486.1 222.0h0M1486.8 233.4h0M1487.5 231.7h0M1488.2 236.8h0M1488.9 214.0h0M1489.4 206.2h0M1490.3 249.7h0M1491.0 233.7h0M1491.7 213.3h0M1492.3 224.5h0M1493.0 243.5h0M1493.7 233.3h0M1494.4 257.5h0M1495.1 222.9h0M1495.8 251.8h0M1496.5 250.6h0M1497.5 201.9h0M1497.9 236.9h0M1498.6 229.0h0M1499.3 213.8h0M1500.0 236.2h0M1500.7 236.1h0M1501.4 245.2h0M1502.1 242.9h0M1502.8 241.8h0M1503.4 251.3h0M1504.1 255.3h0M1504.8 217.7h0M1505.5 236.0h0M1506.2 219.1h0M1506.9 230.5h0M1507.6 236.8h0M1508.3 228.9h0M1509.0 223.9h0M1509.4 199.4h0M1510.4 211.3h0M1511.1 247.5h0M1511.8 226.8h0M1512.5 210.9h0M1513.2 229.0h0M1513.9 213.9h0M1514.5 232.2h0M1515.2 214.4h0M1515.9 230.2h0M1516.6 225.1h0M1517.3 244.9h0M1518.0 249.6h0M1518.7 223.8h0M1519.4 248.7h0M1520.1 247.1h0M1520.6 266.2h0M1521.5 243.8h0M1522.2 251.9h0M1522.9 249.2h0M1523.6 231.7h0M1524.3 238.7h0M1525.0 228.9h0M1525.6 224.9h0M1526.3 209.5h0M1527.0 242.7h0M1527.7 251.7h0M1528.4 230.4h0" stroke="#0072BD" stroke-width="9.0" stroke-linecap="round" fill="none"/>
<path d="M940.8 406.0L942.8 403.7L944.7 401.6L946.7 399.4L948.7 397.2L950.6 395.0L952.6 392.8L954.6 390.6L956.5 388.3L958.5 386.1L960.5 383.9L962.4 381.7L964.4 379.4L966.4 377.2L968.3 374.8L970.3 372.4L972.3 370.0L974.2 367.6L976.2 365.1L978.2 362.7L980.1 360.3L982.1 357.8L984.1 355.4L986.0 352.9L988.0 350.5L990.0 348.0L991.9 345.6L993.9 343.1L995.9 340.6L997.8 338.2L999.8 335.7L1001.8 333.2L1003.7 330.7L1005.7 328.2L1007.7 325.7L1009.6 323.2L1011.6 320.7L1013.6 318.2L1015.5 315.7L1017.5 313.2L1019.5 310.7L1021.4 308.1L1023.4 305.4L1025.4 302.7L1027.3 300.1L1029.3 297.4L1031.3 294.7L1033.2 292.0L1035.2 289.3L1037.2 286.5L1039.1 283.8L1041.1 281.0L1043.1 278.3L1045.0 275.5L1047.0 272.8L1049.0 270.0L1050.9 267.3L1052.9 264.6L1054.9 262.0L1056.8 259.3L1058.8 256.7L1060.8 254.0L1062.7 251.4L1064.7 248.7L1066.7 246.0L1068.6 243.3L1070.6 240.7L1072.6 238.0L1074.5 235.3L1076.5 232.7L1078.5 230.0L1080.4 227.3L1082.4 224.7L1084.4 222.0L1086.3 219.3L1088.3 216.7L1090.3 214.0L1092.2 211.4L1094.2 208.8L1096.1 206.1L1098.1 203.5L1100.1 200.9L1102.0 198.3L1104.0 195.6L1106.0 193.0L1107.9 190.4L1109.9 187.8L1111.9 185.2L1113.8 182.6L1115.8 180.0L1117.8 177.4L1119.7 174.8L1121.7 172.2L1123.7 169.6L1125.6 167.0L1127.6 164.4L1129.6 161.8L1131.5 159.2L1133.5 156.6L1135.5 154.1L1137.4 151.5L1139.4 148.9L1141.4 146.3L1143.3 143.7L1145.3 141.1L1147.3 138.5L1149.2 136.0L1151.2 133.4L1153.2 130.8L1155.1 128.2L1157.1 125.7L1159.1 123.1L1161.0 120.5L1163.0 118.0L1165.0 115.4L1166.9 112.9L1168.9 110.3L1170.9 107.7L1172.8 105.2L1174.8 102.6L1176.8 100.1L1178.7 97.5L1180.7 95.0L1182.7 92.4L1184.6 89.9L1186.6 87.4L1188.6 84.9L1190.5 82.4L1192.5 79.9L1194.5 77.3L1196.4 74.7L1198.4 72.1L1200.4 69.7L1202.3 67.4L1204.3 65.3L1206.3 63.3L1208.2 61.5L1210.2 59.8L1212.2 58.2L1214.1 56.8L1216.1 55.8L1218.1 55.1L1220.0 55.1L1222.0 55.9L1224.0 57.0L1225.9 58.4L1227.9 60.0L1229.9 61.5L1231.8 63.0L1233.8 64.7L1235.8 66.4L1237.7 68.2L1239.7 70.1L1241.7 72.2L1243.6 74.3L1245.6 76.6L1247.6 78.9L1249.5 81.3L1251.5 83.8L1253.5 86.3L1255.4 88.8L1257.4 91.4L1259.3 94.0L1261.3 96.6L1263.3 99.2L1265.2 101.8L1267.2 104.3L1269.2 106.9L1271.1 109.3L1273.1 111.7L1275.1 114.1L1277.0 116.5L1279.0 118.9L1281.0 121.3L1282.9 123.7L1284.9 126.1L1286.9 128.4L1288.8 130.8L1290.8 133.2L1292.8 135.5L1294.7 137.9L1296.7 140.2L1298.7 142.5L1300.6 144.9L1302.6 147.2L1304.6 149.5L1306.5 151.9L1308.5 154.2L1310.5 156.5L1312.4 158.8L1314.4 161.2L1316.4 163.5L1318.3 165.8L1320.3 168.1L1322.3 170.4L1324.2 172.8L1326.2 175.1L1328.2 177.4L1330.1 179.8L1332.1 182.1L1334.1 184.4L1336.0 186.7L1338.0 189.1L1340.0 191.4L1341.9 193.7L1343.9 196.0L1345.9 198.4L1347.8 200.7L1349.8 203.0L1351.8 205.3L1353.7 207.6L1355.7 210.0L1357.7 212.3L1359.6 214.6L1361.6 216.9L1363.6 219.2L1365.5 221.5L1367.5 223.8L1369.5 226.1L1371.4 228.3L1373.4 230.6L1375.4 232.9L1377.3 235.2L1379.3 237.4L1381.3 239.7L1383.2 241.9L1385.2 244.2L1387.2 246.4L1389.1 248.7L1391.1 250.9L1393.1 253.1L1395.0 255.3L1397.0 257.5L1399.0 259.7L1400.9 261.9L1402.9 264.1L1404.9 266.3L1406.8 268.4L1408.8 270.6L1410.8 272.7L1412.7 274.9L1414.7 277.0L1416.7 279.1L1418.6 281.2L1420.6 283.3L1422.5 285.4L1424.5 287.5L1426.5 289.6L1428.4 291.7L1430.4 293.8L1432.4 295.9L1434.3 297.9L1436.3 300.0L1438.3 302.1L1440.2 304.1L1442.2 306.2L1444.2 308.2L1446.1 310.3L1448.1 312.3L1450.1 314.3L1452.0 316.4L1454.0 318.4L1456.0 320.4L1457.9 322.4L1459.9 324.4L1461.9 326.4L1463.8 328.4L1465.8 330.4L1467.8 332.4L1469.7 334.4L1471.7 336.4L1473.7 338.3L1475.6 340.3L1477.6 342.3L1479.6 344.2L1481.5 346.2L1483.5 348.1L1485.5 350.0L1487.4 352.0L1489.4 353.9L1491.4 355.8L1493.3 357.7L1495.3 359.7L1497.3 361.6L1499.2 363.5L1501.2 365.4L1503.2 367.3L1505.1 369.1L1507.1 371.0L1509.1 372.9L1511.0 374.8L1513.0 376.6L1515.0 378.5L1516.9 380.3L1518.9 382.2L1520.9 384.0L1522.8 385.8L1524.8 387.7L1526.8 389.5L1528.7 391.3" stroke="#D95319" stroke-width="6.5" stroke-linejoin="round" stroke-linecap="butt" fill="none"/>
<path d="M932.6 38.9H1600.4" stroke="#262626" stroke-width="1.8" fill="none"/><path d="M1016.75 38.9v6.5M1183.25 38.9v6.5M1349.75 38.9v6.5M1516.25 38.9v6.5" stroke="#262626" stroke-width="1.8" fill="none"/><path d="M932.6 417.6H1600.4" stroke="#262626" stroke-width="1.8" fill="none"/><path d="M1016.75 417.6v-6.5M1183.25 417.6v-6.5M1349.75 417.6v-6.5M1516.25 417.6v-6.5" stroke="#262626" stroke-width="1.8" fill="none"/><path d="M933.5 38V418.5" stroke="#0072BD" stroke-width="1.8" fill="none"/><path d="M933.5 354.48h6.5M933.5 228.25h6.5M933.5 102.02h6.5" stroke="#0072BD" stroke-width="1.8" fill="none"/><path d="M1599.5 38V418.5" stroke="#D95319" stroke-width="1.8" fill="none"/><path d="M1599.5 417.6h-6.5M1599.5 333.44h-6.5M1599.5 249.29h-6.5M1599.5 165.13h-6.5M1599.5 80.98h-6.5" stroke="#D95319" stroke-width="1.8" fill="none"/>
<text x="1016.75" y="459.3" text-anchor="middle" fill="#262626">8</text><text x="1183.25" y="459.3" text-anchor="middle" fill="#262626">10</text><text x="1349.75" y="459.3" text-anchor="middle" fill="#262626">12</text><text x="1516.25" y="459.3" text-anchor="middle" fill="#262626">14</text>
<text x="1266.5" y="23.3" text-anchor="middle" fill="#000">C34 (MEO)</text>
<text x="1266" y="501.2" text-anchor="middle" fill="#262626">Time (hour)</text>
<rect x="1315.5" y="48.2" width="274.2" height="101.2" fill="#fff" stroke="#262626" stroke-width="1.8"/>
<path d="M1390.4 76.8h0" stroke="#0072BD" stroke-width="9.0" stroke-linecap="round"/>
<path d="M1328.5 122.8H1452.8" stroke="#D95319" stroke-width="6.5"/>
<text x="1462.3" y="89" font-size="33" fill="#000">B3I</text>
<text x="1462.3" y="134" font-size="33" fill="#000">elvation</text>
</g>
<g id="p3">
<path d="M96.0 703.9h0M97.4 717.1h0M98.8 764.8h0M99.5 688.5h0M101.4 840.0h0M102.7 784.2h0M104.0 858.2h0M105.4 757.7h0M106.7 794.8h0M108.0 722.4h0M109.3 727.0h0M110.6 763.9h0M112.0 703.4h0M113.3 747.9h0M114.6 753.8h0M115.3 684.7h0M117.3 754.8h0M118.6 755.4h0M119.7 819.8h0M121.1 847.1h0M122.6 699.4h0M123.9 772.0h0M125.3 698.4h0M126.6 746.2h0M127.9 751.6h0M129.3 717.5h0M130.6 735.9h0M131.9 689.5h0M133.0 894.5h0M134.5 673.7h0M135.6 831.3h0M137.3 781.8h0M138.6 765.2h0M140.0 819.6h0M140.9 884.4h0M142.7 666.7h0M145.1 688.5h0M144.9 843.1h0M146.8 699.7h0M148.2 755.7h0M149.2 654.4h0M150.7 895.2h0M151.9 574.2h0M155.0 859.2h0M155.0 910.7h0M157.3 614.0h0M158.4 743.2h0M159.9 780.9h0M161.3 777.5h0M163.5 629.1h0M164.3 768.1h0M165.7 811.7h0M167.2 788.0h0M168.0 925.6h0M170.8 662.4h0M171.6 722.0h0M173.7 817.8h0M174.5 730.2h0M176.0 810.5h0M178.0 842.7h0M178.9 749.7h0M180.4 731.2h0M181.8 654.8h0M183.3 787.6h0M184.8 718.6h0M186.1 861.6h0M188.3 871.3h0M189.3 758.4h0M190.7 743.8h0M192.7 663.3h0M193.7 707.5h0M194.7 641.4h0M196.9 566.9h0M198.1 750.4h0M199.6 788.3h0M201.1 757.0h0M202.4 662.4h0M203.7 653.2h0M205.6 742.3h0M207.1 803.8h0M208.8 920.8h0M209.3 680.1h0M211.9 862.9h0M213.0 719.8h0M214.8 594.1h0M216.0 797.2h0M217.5 729.7h0M219.0 737.2h0M220.5 713.7h0M221.5 908.4h0M223.1 684.1h0M225.0 761.2h0M226.5 791.0h0M228.0 809.4h0M229.5 709.2h0M231.0 775.6h0M232.4 616.2h0M232.6 827.9h0M234.2 820.5h0M237.1 843.4h0M238.5 742.8h0M240.0 796.8h0M241.6 809.0h0M244.5 837.4h0M244.0 684.7h0M245.5 646.2h0M247.6 770.9h0M249.1 742.6h0M250.6 787.4h0M252.1 715.0h0M253.9 646.2h0M255.2 722.8h0M256.7 736.9h0M258.2 718.1h0M259.7 743.5h0M261.3 729.6h0M262.8 797.9h0M264.4 747.5h0M266.0 714.7h0M267.7 763.1h0M269.3 753.6h0M270.9 715.7h0M272.5 717.7h0M274.1 739.5h0M275.7 796.8h0M277.3 754.8h0M278.9 790.5h0M280.6 764.4h0M282.2 737.3h0M283.8 774.7h0M285.1 893.2h0M287.1 713.0h0M288.7 743.5h0M290.3 732.7h0M291.4 819.2h0M293.6 792.7h0M295.2 795.7h0M296.9 783.0h0M298.5 797.4h0M300.2 795.1h0M301.8 771.2h0M303.5 788.9h0M305.1 799.7h0M306.8 801.8h0M308.4 770.0h0M310.1 767.9h0M311.7 739.0h0M313.4 731.6h0M315.0 763.1h0M316.7 725.6h0M318.4 777.2h0M320.0 711.4h0M321.7 732.9h0M323.4 763.2h0M325.0 786.4h0M326.7 732.1h0M328.4 798.2h0M330.1 767.2h0M331.7 725.6h0M333.3 738.1h0M334.9 760.2h0M336.5 723.7h0M338.1 783.9h0M339.6 744.8h0M341.2 759.6h0M342.8 784.3h0M344.4 731.9h0M346.0 780.3h0M347.6 711.3h0M349.2 769.3h0M350.8 712.8h0M352.4 770.4h0M354.0 734.8h0M355.6 798.2h0M357.2 798.6h0M358.9 759.0h0M360.5 725.1h0M362.1 781.5h0M363.7 718.4h0M365.3 782.8h0M366.9 752.5h0M368.5 739.3h0M370.1 723.3h0M371.7 794.1h0M373.3 717.5h0M374.9 735.5h0M376.5 778.7h0M378.1 788.1h0M379.7 799.1h0M381.4 796.4h0M383.0 754.5h0M384.6 766.6h0M386.2 782.5h0M387.8 785.9h0M389.4 723.4h0M391.0 761.5h0M392.6 758.4h0M394.2 719.3h0M396.0 810.4h0M397.4 746.2h0M399.0 773.2h0M400.6 783.7h0M402.2 786.7h0M403.9 773.0h0M405.5 754.8h0M407.1 741.0h0M408.7 740.3h0M410.3 751.5h0M411.9 749.1h0M413.5 791.5h0M415.1 796.1h0M416.7 777.0h0M418.3 787.6h0M419.9 783.2h0M421.5 774.7h0M423.1 778.3h0M424.7 768.5h0M426.3 750.6h0M427.8 748.2h0M429.4 751.8h0M431.0 735.8h0M432.3 810.4h0M434.2 780.1h0M435.8 748.6h0M437.4 726.5h0M439.0 769.0h0M440.5 726.3h0M442.1 727.6h0M443.7 721.5h0M445.3 783.4h0M446.9 719.9h0M448.4 753.1h0M450.0 758.0h0M451.6 752.5h0M453.2 734.6h0M454.7 762.9h0M456.3 768.3h0M457.9 742.2h0M459.4 776.2h0M461.0 779.3h0M462.6 746.6h0M464.2 754.9h0M465.7 742.5h0M467.3 780.3h0M468.9 740.0h0M470.4 744.0h0M472.0 737.0h0M473.6 781.1h0M475.1 756.6h0M476.7 759.4h0M478.3 778.4h0M479.8 770.8h0M481.4 745.9h0M483.0 772.5h0M484.5 766.3h0M486.1 746.5h0M487.7 742.7h0M489.2 745.4h0M490.8 778.3h0M492.4 761.2h0M493.9 748.9h0M495.5 764.2h0M497.1 762.0h0M498.6 746.3h0M500.2 745.8h0M501.8 770.7h0M503.3 777.1h0M504.9 764.9h0M506.5 766.1h0M508.0 762.5h0M509.6 756.6h0M511.1 762.6h0M512.7 770.1h0M514.3 760.0h0M515.8 771.3h0M517.4 764.6h0M519.0 763.9h0M520.5 738.7h0M522.1 753.0h0M523.6 763.9h0M525.2 763.5h0M526.8 761.4h0M528.3 771.1h0M529.9 766.2h0M531.4 760.5h0M533.0 747.8h0M534.5 762.9h0M536.1 765.1h0M537.7 767.1h0M539.2 765.4h0M540.8 753.0h0M542.3 753.5h0M543.9 747.8h0M545.4 762.5h0M547.0 753.2h0M548.5 757.2h0M550.1 758.4h0M551.7 766.7h0M553.2 764.5h0M554.8 756.3h0M556.3 751.2h0M557.9 758.3h0M559.4 756.5h0M561.0 765.8h0M562.5 764.3h0M564.1 764.1h0M565.6 751.6h0M567.2 758.4h0M568.7 759.4h0M570.3 761.9h0M571.8 755.9h0M573.4 760.4h0M574.9 769.1h0M576.5 745.6h0M578.0 760.9h0M579.6 760.7h0M581.1 746.3h0M582.7 751.1h0M584.2 758.7h0M585.7 757.0h0M587.3 764.5h0M588.8 759.4h0M590.4 773.2h0M591.9 752.3h0M593.5 777.4h0M595.0 752.7h0M596.5 760.1h0M598.1 762.8h0M599.6 755.0h0M601.2 755.5h0M602.7 753.7h0M604.3 744.7h0M605.8 754.5h0M607.3 755.0h0M608.9 762.2h0M610.4 749.0h0M611.9 758.3h0M613.5 766.0h0M615.0 760.2h0M616.6 761.1h0M618.1 764.3h0M619.6 756.8h0M621.2 762.6h0M622.7 765.5h0M624.2 747.7h0M625.8 768.6h0M627.3 763.7h0M628.8 746.4h0M630.3 780.7h0M631.9 767.1h0M633.4 753.7h0M634.9 772.9h0M636.4 740.4h0M638.0 774.9h0M639.5 743.3h0M641.0 742.3h0M642.5 747.9h0M644.0 757.1h0M645.6 750.3h0M647.1 762.6h0M648.6 745.9h0M650.1 766.4h0M651.6 760.8h0M653.1 754.5h0M654.6 769.8h0M656.2 761.2h0M657.7 753.3h0M659.3 768.5h0M660.9 749.3h0M662.4 756.6h0M664.0 772.4h0M665.5 763.1h0M667.0 766.3h0M668.5 769.0h0M670.0 760.3h0M671.4 765.0h0M672.8 753.3h0M674.1 767.6h0M675.4 756.4h0M676.7 756.5h0M677.9 754.2h0M679.1 759.6h0M680.3 759.2h0M681.5 766.7h0M682.6 756.7h0M683.7 749.8h0M684.8 736.8h0M685.8 748.3h0M686.8 757.1h0M687.7 757.6h0M688.7 753.3h0M689.6 752.2h0M690.5 745.4h0M691.4 748.8h0M692.1 767.0h0M692.7 759.2h0M693.3 747.5h0M693.9 761.7h0M694.4 763.3h0M694.8 751.2h0M695.1 757.3h0M695.2 759.4h0M695.1 761.4h0M694.8 771.6h0M694.3 746.6h0M693.8 765.3h0M693.2 758.8h0M692.7 760.8h0M692.0 751.9h0M691.2 758.2h0M690.3 757.8h0M689.3 773.5h0M688.4 756.9h0M687.5 772.3h0M686.6 754.2h0M685.7 752.1h0M684.7 757.0h0M683.8 743.9h0M682.9 755.5h0M681.9 753.1h0M681.0 755.0h0M680.0 757.9h0M679.0 747.3h0M678.0 749.6h0M677.0 767.6h0M675.9 754.0h0M674.9 754.3h0M673.8 750.5h0M672.7 755.6h0M671.5 765.3h0M670.4 764.2h0M669.2 750.2h0M668.0 759.2h0M666.7 774.5h0M665.5 755.5h0M664.2 754.5h0M662.9 770.6h0M661.5 774.8h0M660.2 770.8h0M658.8 755.4h0M657.4 756.6h0M656.0 755.8h0M654.6 756.5h0M653.2 749.8h0M651.7 775.0h0M650.3 760.2h0M648.8 761.4h0M647.3 764.3h0M645.8 763.3h0M644.3 761.5h0M642.8 762.7h0M641.3 770.9h0M639.7 759.7h0M638.2 745.0h0M636.7 766.4h0M635.1 769.7h0M633.5 753.9h0M632.0 751.4h0M630.4 749.6h0M628.9 763.1h0M627.3 746.5h0M625.7 760.8h0M624.2 760.6h0M622.6 764.8h0M621.0 756.7h0M619.5 752.3h0M617.9 754.0h0M616.4 761.3h0M614.8 757.5h0M613.3 761.9h0M611.7 755.3h0M610.2 769.8h0M608.7 774.7h0M607.2 750.7h0M605.7 767.5h0M604.2 760.6h0M602.7 760.9h0M601.3 765.1h0M599.8 766.3h0M598.4 751.3h0M596.9 779.7h0M595.4 752.9h0M594.0 745.1h0M592.6 761.1h0M591.1 762.3h0M589.7 754.2h0M588.2 740.1h0M586.8 763.8h0M585.3 756.6h0M583.9 763.6h0M582.5 759.7h0M581.0 764.4h0M579.6 755.0h0M578.2 764.5h0M576.7 759.3h0M575.3 765.9h0M573.9 764.5h0M572.4 756.3h0M571.0 759.8h0M569.6 768.7h0M568.2 748.9h0M566.8 758.6h0M565.3 771.9h0M563.9 754.1h0M562.5 770.6h0M561.1 761.5h0M559.7 761.0h0M558.2 750.8h0M556.8 757.2h0M555.4 760.7h0M554.0 756.5h0M552.6 744.4h0M551.2 779.0h0M549.8 760.0h0M548.3 758.1h0M546.9 763.6h0M545.5 773.8h0M544.1 741.8h0M542.7 761.6h0M541.3 743.1h0M539.9 754.9h0M538.5 756.2h0M537.1 753.6h0M535.7 751.9h0M534.3 746.3h0M532.9 760.0h0M531.5 756.0h0M530.1 750.2h0M528.7 741.1h0M527.3 746.1h0M525.9 769.1h0M524.5 765.9h0M523.1 759.5h0M521.7 768.2h0M520.3 761.6h0M518.9 769.8h0M517.5 763.3h0M516.1 762.4h0M514.7 754.6h0M513.3 761.3h0M511.9 744.3h0M510.5 764.2h0M509.1 736.9h0M507.7 745.8h0M506.3 761.6h0M504.9 776.2h0M503.5 778.5h0M502.1 753.9h0M500.7 745.5h0M499.3 740.6h0M497.9 781.3h0M496.5 737.2h0M495.1 762.8h0M493.7 749.7h0M492.3 777.3h0M490.9 754.3h0M489.5 756.4h0M488.1 746.9h0M486.7 753.2h0M485.3 775.5h0M483.9 741.5h0M482.5 744.6h0M481.1 751.3h0M479.7 746.4h0M478.3 748.1h0M476.9 769.8h0M475.5 785.1h0M474.1 786.6h0M472.7 743.4h0M471.3 749.7h0M469.9 750.8h0M468.5 757.9h0M467.1 752.1h0M465.7 758.9h0M464.3 767.2h0M462.9 776.2h0M461.5 744.5h0M460.1 763.9h0M458.7 780.6h0M457.3 781.1h0M455.9 774.5h0M454.5 756.3h0M453.1 747.1h0M451.7 761.9h0M450.3 761.4h0M448.9 767.0h0M447.5 783.0h0M446.1 748.5h0M444.7 761.1h0M443.3 735.0h0M441.9 774.3h0M440.5 758.3h0M439.1 749.8h0M437.7 775.6h0M436.3 783.8h0M434.9 780.1h0M433.5 763.3h0M432.1 758.0h0M430.7 761.4h0M429.3 743.8h0M427.9 754.8h0M426.5 755.0h0M425.2 753.2h0M423.8 764.0h0M422.4 746.0h0M421.0 744.2h0M419.6 756.3h0M418.2 754.2h0M416.8 771.7h0M415.4 787.0h0M414.1 785.2h0M412.6 794.5h0M411.3 754.1h0M409.9 745.5h0M408.5 765.9h0M407.1 777.2h0M405.8 750.3h0M404.4 767.3h0M403.0 779.2h0M401.6 769.3h0M400.3 760.6h0M398.9 778.7h0M397.5 760.4h0M396.1 749.8h0M394.8 778.9h0M393.4 749.4h0M392.0 777.7h0M390.7 765.1h0M389.3 771.5h0M387.9 770.3h0M386.6 758.8h0M385.2 766.8h0M383.8 744.0h0M382.5 755.0h0M381.1 745.4h0M379.7 769.5h0M378.4 785.2h0M377.0 770.8h0M375.7 779.2h0M374.3 754.3h0M373.0 766.3h0M371.6 743.7h0M370.3 746.0h0M368.9 744.3h0M368.2 716.2h0M366.2 752.9h0M364.9 755.7h0M363.5 746.5h0M362.2 778.5h0M360.9 764.4h0M359.5 743.5h0M358.2 773.4h0M356.8 764.2h0M355.5 774.1h0M354.2 784.0h0M352.8 760.1h0M351.5 772.9h0M350.2 773.7h0M348.9 744.5h0M347.5 744.1h0M346.2 759.0h0M344.9 741.7h0M343.6 749.7h0M342.3 762.0h0M340.9 774.5h0M339.6 778.3h0M338.3 754.4h0M337.0 753.9h0M335.7 753.9h0M334.4 740.2h0M333.1 747.1h0M331.8 751.0h0M330.5 749.4h0M329.2 739.4h0M327.9 758.9h0M326.6 777.6h0M325.3 776.9h0M324.0 758.0h0M322.7 775.0h0M321.4 768.9h0M320.1 757.4h0M318.9 791.5h0M317.6 762.8h0M316.3 751.7h0M315.0 754.4h0M313.7 779.1h0M312.5 741.8h0M311.2 773.8h0M309.9 787.9h0M308.7 778.9h0M307.4 766.2h0M306.1 739.2h0M304.9 743.7h0M303.6 762.2h0M302.3 781.5h0M301.1 784.6h0M299.8 779.8h0M298.5 774.1h0M297.3 787.8h0M296.0 755.6h0M294.8 763.7h0M293.5 775.0h0M292.3 764.4h0M291.0 789.1h0M289.7 787.4h0M288.5 775.6h0M287.2 743.5h0M286.0 746.5h0M284.7 774.9h0M283.5 738.0h0M282.2 775.4h0M281.0 740.9h0M279.7 751.1h0M278.5 774.5h0M277.0 685.8h0M276.0 784.0h0M274.8 782.0h0M273.5 790.6h0M272.3 757.4h0M271.1 705.0h0M270.1 716.4h0M268.6 752.0h0M267.3 735.0h0M266.1 769.0h0M264.9 773.6h0M263.7 720.5h0M262.4 746.7h0M261.2 772.6h0M260.0 790.3h0M258.7 774.7h0M257.5 753.5h0M256.4 726.0h0M255.0 741.2h0M254.2 801.3h0M252.6 757.3h0M251.4 787.5h0M250.2 747.3h0M248.9 768.6h0M248.3 731.6h0M246.5 770.5h0M245.3 790.0h0M244.1 779.9h0M242.8 770.6h0M241.6 773.4h0M240.1 737.1h0M239.2 743.1h0M238.0 755.9h0M236.8 779.8h0M235.6 762.3h0M234.4 778.8h0M232.1 798.3h0M232.1 742.2h0M230.8 770.4h0M229.6 788.5h0M228.4 798.0h0M227.1 787.4h0M225.9 792.6h0M224.8 760.8h0M223.6 761.9h0M222.4 780.3h0M221.2 760.0h0M220.0 737.5h0M218.8 781.7h0M217.6 774.6h0M216.8 819.5h0M215.2 776.1h0M214.0 766.1h0M212.8 758.7h0M211.6 711.8h0M210.5 789.1h0M209.3 777.5h0M208.1 774.8h0M206.7 824.3h0M205.7 778.5h0M205.0 744.5h0M203.4 749.0h0M201.6 688.6h0M201.0 782.8h0M199.8 780.7h0M198.5 715.0h0M198.5 695.4h0M196.3 759.0h0M195.1 761.1h0M194.0 766.6h0M193.3 814.7h0M191.6 782.8h0M190.5 777.4h0M188.4 818.5h0M188.4 809.0h0M187.0 774.6h0M185.8 785.8h0M184.7 755.1h0M183.5 755.9h0M182.3 787.9h0M181.2 747.2h0M180.2 738.7h0M178.9 764.9h0M177.7 746.2h0M176.9 710.8h0M175.4 773.5h0M173.7 716.2h0M173.7 828.2h0M172.1 803.2h0M170.4 693.5h0M169.7 789.1h0M168.5 774.0h0M167.4 756.2h0M166.5 687.7h0M164.2 794.5h0M164.2 842.7h0M162.8 755.6h0M161.7 757.7h0M160.6 779.1h0M159.1 703.5h0M157.4 806.0h0M157.4 801.3h0M156.0 756.1h0M154.9 763.4h0M153.8 761.1h0M152.6 758.9h0M151.5 781.4h0M150.4 768.5h0M149.5 833.0h0M148.0 681.0h0M147.0 751.0h0M145.9 774.5h0M144.9 731.0h0M143.2 826.2h0M143.2 721.4h0M141.4 761.7h0M140.3 769.5h0M139.2 750.6h0M138.6 703.1h0M137.0 763.0h0M135.9 769.0h0M134.8 764.9h0M133.7 781.4h0M132.5 722.4h0M131.5 779.0h0M130.4 762.5h0M129.2 703.5h0M128.2 748.6h0M127.1 765.0h0M126.0 747.0h0M124.3 732.0h0M124.3 782.1h0M122.7 774.4h0M121.4 824.3h0" stroke="#0072BD" stroke-width="9.0" stroke-linecap="round" fill="none"/>
<path d="M75.3 566.8H723.6" stroke="#262626" stroke-width="1.8" fill="none"/><path d="M76.2 566.8v6.5M219.87 566.8v6.5M363.53 566.8v6.5M507.2 566.8v6.5M650.87 566.8v6.5" stroke="#262626" stroke-width="1.8" fill="none"/><path d="M75.3 949.4H723.6" stroke="#262626" stroke-width="1.8" fill="none"/><path d="M76.2 949.4v-6.5M219.87 949.4v-6.5M363.53 949.4v-6.5M507.2 949.4v-6.5M650.87 949.4v-6.5" stroke="#262626" stroke-width="1.8" fill="none"/><path d="M76.2 565.9V950.3" stroke="#262626" stroke-width="1.8" fill="none"/><path d="M76.2 885.63h6.5M76.2 758.1h6.5M76.2 630.57h6.5" stroke="#262626" stroke-width="1.8" fill="none"/><path d="M722.7 565.9V950.3" stroke="#262626" stroke-width="1.8" fill="none"/><path d="M722.7 885.63h-6.5M722.7 758.1h-6.5M722.7 630.57h-6.5" stroke="#262626" stroke-width="1.8" fill="none"/>
<text x="76.2" y="989.6" text-anchor="middle" fill="#262626">0</text><text x="219.87" y="989.6" text-anchor="middle" fill="#262626">20</text><text x="363.53" y="989.6" text-anchor="middle" fill="#262626">40</text><text x="507.2" y="989.6" text-anchor="middle" fill="#262626">60</text><text x="650.87" y="989.6" text-anchor="middle" fill="#262626">80</text>
<text x="70.5" y="897.33" text-anchor="end" fill="#262626">-1</text><text x="70.5" y="769.8" text-anchor="end" fill="#262626">0</text><text x="70.5" y="642.27" text-anchor="end" fill="#262626">1</text>
<text x="397" y="1042.5" text-anchor="middle" fill="#262626">elevation (<tspan font-size="25" dx="1.5" dy="-16">o</tspan><tspan dx="2.5" dy="16">)</tspan></text>
<text transform="translate(24.5 757.5) rotate(-90)" text-anchor="middle" fill="#262626">Code MP (m)</text>
</g>
<g id="p4">
<path d="M953.5 786.4h0M955.4 782.3h0M956.8 757.8h0M958.1 759.8h0M959.5 761.0h0M961.0 805.3h0M962.2 804.1h0M963.5 778.0h0M964.9 781.6h0M966.3 763.4h0M967.6 760.6h0M969.0 751.1h0M970.9 794.6h0M971.7 776.3h0M973.1 773.9h0M975.0 837.2h0M975.8 778.1h0M977.2 755.6h0M978.1 730.2h0M979.9 765.9h0M981.3 757.1h0M983.1 804.1h0M984.4 706.8h0M984.4 802.8h0M986.8 765.6h0M988.0 737.1h0M989.5 776.7h0M990.9 753.5h0M992.3 764.5h0M994.3 802.2h0M994.3 707.4h0M996.4 783.5h0M997.8 773.4h0M999.3 796.5h0M999.8 718.2h0M1001.3 677.1h0M1003.0 862.2h0M1004.3 790.2h0M1004.3 733.3h0M1008.2 709.4h0M1009.2 784.1h0M1011.0 830.3h0M1012.2 756.2h0M1013.6 727.0h0M1015.2 762.1h0M1016.7 765.7h0M1018.2 785.0h0M1019.7 763.0h0M1021.2 759.3h0M1022.7 765.6h0M1024.0 668.9h0M1024.4 857.1h0M1027.3 792.7h0M1028.7 758.9h0M1030.2 765.8h0M1031.8 783.9h0M1034.0 695.5h0M1035.3 729.6h0M1036.7 805.3h0M1037.8 765.5h0M1039.5 794.0h0M1040.8 735.9h0M1042.4 753.9h0M1043.9 762.4h0M1045.4 780.2h0M1046.2 740.9h0M1047.7 646.8h0M1050.4 791.4h0M1051.5 769.5h0M1054.6 615.3h0M1054.6 871.6h0M1054.6 910.8h0M1057.6 750.2h0M1058.7 613.4h0M1060.1 715.0h0M1061.4 862.2h0M1063.6 582.1h0M1065.2 779.3h0M1066.8 758.1h0M1068.3 780.2h0M1069.7 823.0h0M1071.9 660.1h0M1072.9 750.7h0M1074.5 753.0h0M1075.2 698.6h0M1076.7 809.8h0M1078.9 672.5h0M1079.3 829.3h0M1080.8 655.7h0M1082.2 790.2h0M1085.2 762.3h0M1086.8 750.3h0M1089.1 807.9h0M1089.1 738.4h0M1089.1 796.5h0M1093.4 688.5h0M1094.7 806.6h0M1096.1 747.2h0M1097.6 757.6h0M1099.0 710.0h0M1100.3 815.4h0M1103.1 694.2h0M1103.1 810.4h0M1104.6 737.1h0M1105.9 797.8h0M1108.5 759.7h0M1110.2 698.0h0M1111.6 758.2h0M1113.2 762.1h0M1114.8 754.1h0M1116.3 773.2h0M1117.2 727.0h0M1120.0 786.4h0M1121.0 759.2h0M1122.6 772.8h0M1124.1 752.5h0M1125.7 736.5h0M1127.4 774.9h0M1129.1 765.3h0M1130.7 759.2h0M1132.4 757.4h0M1134.0 746.1h0M1135.7 751.4h0M1137.4 750.5h0M1139.0 770.6h0M1140.6 734.0h0M1142.4 745.2h0M1144.0 744.7h0M1145.7 768.3h0M1146.6 782.0h0M1149.0 755.1h0M1150.7 774.9h0M1152.4 773.4h0M1154.1 755.4h0M1155.8 755.0h0M1157.4 762.1h0M1159.1 774.2h0M1160.8 759.5h0M1162.5 771.6h0M1164.2 751.1h0M1165.9 767.6h0M1167.6 763.3h0M1169.3 757.7h0M1171.0 765.9h0M1172.7 743.0h0M1174.0 733.3h0M1175.6 779.5h0M1177.8 745.2h0M1179.5 761.0h0M1181.3 752.2h0M1183.0 756.7h0M1184.7 771.1h0M1186.4 764.6h0M1188.1 759.4h0M1189.8 758.8h0M1191.6 750.2h0M1193.3 746.8h0M1195.0 767.3h0M1196.7 758.8h0M1198.3 769.2h0M1200.0 754.0h0M1201.6 744.7h0M1203.0 782.0h0M1204.9 754.0h0M1206.5 762.3h0M1208.2 768.6h0M1209.8 764.3h0M1211.5 769.1h0M1213.1 769.3h0M1214.8 747.6h0M1216.4 766.9h0M1218.1 746.8h0M1219.7 769.0h0M1221.4 753.7h0M1223.0 767.8h0M1224.7 757.6h0M1226.3 768.1h0M1228.0 760.7h0M1229.6 765.4h0M1231.3 767.8h0M1232.9 752.3h0M1234.6 744.4h0M1236.3 759.3h0M1237.9 748.2h0M1239.6 752.1h0M1241.2 753.7h0M1242.9 746.3h0M1244.5 765.9h0M1246.2 757.7h0M1247.9 766.3h0M1249.5 758.8h0M1251.2 757.0h0M1252.8 747.5h0M1254.5 757.2h0M1256.1 748.3h0M1257.8 750.9h0M1259.5 761.8h0M1261.1 758.1h0M1262.8 747.4h0M1264.4 757.0h0M1266.1 757.5h0M1267.7 753.9h0M1269.4 764.0h0M1271.0 761.7h0M1272.7 757.7h0M1274.3 758.3h0M1276.0 762.3h0M1277.6 759.5h0M1279.3 758.0h0M1280.9 754.5h0M1282.6 748.8h0M1284.2 754.8h0M1285.9 755.0h0M1287.5 762.3h0M1289.2 759.6h0M1290.8 755.0h0M1292.5 762.0h0M1294.1 756.3h0M1295.8 754.7h0M1297.4 756.5h0M1299.0 750.9h0M1300.7 757.3h0M1302.3 757.2h0M1303.9 756.2h0M1305.6 751.5h0M1307.2 747.1h0M1308.8 760.7h0M1310.5 754.1h0M1312.1 755.2h0M1313.7 748.1h0M1315.3 754.4h0M1317.0 759.4h0M1318.6 749.0h0M1320.2 758.5h0M1321.8 756.6h0M1323.4 761.6h0M1325.1 757.3h0M1326.7 754.7h0M1328.3 748.9h0M1329.9 750.6h0M1331.5 751.7h0M1333.2 750.5h0M1334.8 753.4h0M1336.4 755.4h0M1338.0 752.7h0M1339.6 750.7h0M1341.2 753.8h0M1342.9 751.3h0M1344.5 752.0h0M1346.1 753.6h0M1347.7 758.6h0M1349.3 748.0h0M1350.9 754.5h0M1352.5 751.5h0M1354.2 756.1h0M1355.8 749.8h0M1357.4 758.2h0M1359.0 747.7h0M1360.6 756.7h0M1362.2 759.0h0M1363.8 758.4h0M1365.5 746.2h0M1367.1 752.7h0M1368.7 760.9h0M1370.3 755.7h0M1371.9 750.0h0M1373.5 758.2h0M1375.1 754.2h0M1376.7 755.7h0M1378.3 747.6h0M1380.0 757.0h0M1381.6 747.6h0M1383.2 759.0h0M1384.8 758.6h0M1386.4 754.0h0M1388.0 749.5h0M1389.6 758.4h0M1391.2 752.1h0M1392.8 749.1h0M1394.4 758.0h0M1396.0 752.9h0M1397.6 752.8h0M1399.2 756.7h0M1400.9 755.2h0M1402.5 755.9h0M1404.1 756.2h0M1405.7 756.4h0M1407.3 755.7h0M1408.9 761.9h0M1410.5 755.6h0M1412.1 753.9h0M1413.7 757.6h0M1415.3 750.3h0M1416.9 748.5h0M1418.5 750.4h0M1420.1 760.7h0M1421.7 748.9h0M1423.3 756.2h0M1424.9 752.0h0M1426.5 757.7h0M1428.1 754.0h0M1429.7 750.8h0M1431.3 753.9h0M1432.9 753.2h0M1434.5 757.7h0M1436.1 759.3h0M1437.7 752.9h0M1439.3 748.8h0M1440.9 762.3h0M1442.5 756.1h0M1444.1 757.9h0M1445.7 759.6h0M1447.3 753.1h0M1448.9 750.5h0M1450.4 759.3h0M1452.0 759.4h0M1453.6 748.8h0M1455.2 751.2h0M1456.8 752.2h0M1458.4 755.0h0M1460.0 754.5h0M1461.6 757.2h0M1463.2 761.3h0M1464.8 759.0h0M1466.4 755.4h0M1468.0 753.4h0M1469.5 756.5h0M1471.1 750.6h0M1472.7 752.1h0M1474.3 757.9h0M1475.9 755.6h0M1477.5 756.4h0M1479.1 750.8h0M1480.7 752.3h0M1482.2 758.7h0M1483.8 761.2h0M1485.4 751.1h0M1487.0 758.1h0M1488.6 752.1h0M1490.2 755.2h0M1491.7 747.0h0M1493.3 756.5h0M1494.9 749.8h0M1496.5 755.6h0M1498.1 748.3h0M1499.6 748.5h0M1501.2 761.0h0M1502.8 755.1h0M1504.4 753.0h0M1505.9 757.2h0M1507.5 754.7h0M1509.1 759.0h0M1510.6 760.6h0M1512.2 750.5h0M1513.8 753.2h0M1515.3 756.8h0M1516.9 758.3h0M1518.5 750.8h0M1520.0 748.3h0M1521.6 752.9h0M1523.1 758.9h0M1524.7 758.2h0M1526.3 752.3h0M1527.8 759.7h0M1529.4 747.2h0M1531.0 753.0h0M1532.6 752.3h0M1534.2 759.0h0M1535.8 754.2h0M1537.4 755.7h0M1539.0 753.3h0M1540.6 755.1h0M1542.2 757.4h0M1543.7 753.2h0M1545.2 753.5h0M1546.7 748.4h0M1548.1 759.2h0M1549.5 760.3h0M1550.8 759.0h0M1552.1 749.0h0M1553.4 760.0h0M1554.6 754.0h0M1555.8 756.6h0M1557.0 753.8h0M1558.2 755.7h0M1559.3 758.3h0M1560.4 755.0h0M1561.5 751.8h0M1562.5 749.9h0M1563.5 748.5h0M1564.5 752.0h0M1565.4 757.1h0M1566.4 761.3h0M1567.2 752.7h0M1568.0 760.1h0M1568.6 757.1h0M1569.2 762.7h0M1569.8 757.4h0M1570.3 759.8h0M1570.8 760.6h0M1571.1 751.9h0M1571.2 761.7h0M1571.1 760.9h0M1570.7 758.5h0M1570.3 759.1h0M1569.7 753.4h0M1569.1 761.0h0M1568.6 757.4h0M1567.9 761.8h0M1567.0 760.5h0M1566.1 756.9h0M1565.1 756.6h0M1564.2 757.1h0M1563.2 756.6h0M1562.3 750.6h0M1561.3 756.7h0M1560.4 756.5h0M1559.4 759.8h0M1558.5 750.2h0M1557.5 753.7h0M1556.5 751.1h0M1555.5 756.6h0M1554.5 761.5h0M1553.5 757.1h0M1552.4 755.5h0M1551.3 759.1h0M1550.2 762.4h0M1549.1 760.8h0M1547.9 755.1h0M1546.8 755.8h0M1545.6 759.4h0M1544.4 755.6h0M1543.1 756.3h0M1541.8 761.7h0M1540.5 760.0h0M1539.2 762.7h0M1537.9 752.6h0M1536.5 762.8h0M1535.1 762.4h0M1533.7 759.7h0M1532.3 751.6h0M1530.8 759.6h0M1529.4 761.0h0M1527.9 753.8h0M1526.4 753.8h0M1524.9 752.1h0M1523.4 764.4h0M1521.9 763.4h0M1520.3 757.3h0M1518.8 754.7h0M1517.2 755.5h0M1515.6 752.8h0M1514.0 763.0h0M1512.5 758.2h0M1510.9 757.1h0M1509.3 752.9h0M1507.7 757.9h0M1506.0 757.4h0M1504.4 762.8h0M1502.8 752.3h0M1501.2 752.3h0M1499.6 751.5h0M1498.0 760.2h0M1496.4 748.3h0M1494.8 760.7h0M1493.1 762.6h0M1491.5 759.6h0M1489.9 761.2h0M1488.3 762.3h0M1486.8 759.0h0M1485.2 750.8h0M1483.6 755.0h0M1482.0 754.4h0M1480.5 759.3h0M1478.9 758.4h0M1477.4 750.2h0M1475.9 757.1h0M1474.4 756.5h0M1472.9 752.8h0M1471.4 754.7h0M1469.9 750.7h0M1468.4 758.8h0M1466.9 749.2h0M1465.4 750.9h0M1463.9 749.8h0M1462.5 755.9h0M1461.0 760.6h0M1459.5 760.5h0M1458.0 754.7h0M1456.5 757.2h0M1455.0 761.0h0M1453.6 757.1h0M1452.1 749.1h0M1450.6 759.2h0M1449.1 752.2h0M1447.7 749.1h0M1446.2 759.0h0M1444.7 752.6h0M1443.2 757.9h0M1441.8 758.2h0M1440.3 758.2h0M1438.8 760.1h0M1437.4 756.0h0M1435.9 760.8h0M1434.5 753.7h0M1433.0 760.0h0M1431.5 757.5h0M1430.1 756.0h0M1428.6 760.0h0M1427.2 761.8h0M1425.7 751.9h0M1424.2 756.2h0M1422.8 757.9h0M1421.3 756.3h0M1419.9 751.0h0M1418.4 748.7h0M1417.0 760.1h0M1415.5 750.4h0M1414.1 751.2h0M1412.6 756.3h0M1411.2 749.0h0M1409.7 760.4h0M1408.3 754.4h0M1406.8 756.6h0M1405.4 760.4h0M1404.0 751.5h0M1402.5 754.6h0M1401.1 751.9h0M1399.6 751.9h0M1398.2 757.1h0M1396.7 759.1h0M1395.3 762.6h0M1393.9 757.4h0M1392.4 757.5h0M1391.0 762.8h0M1389.5 760.7h0M1388.1 753.6h0M1386.7 756.8h0M1385.2 748.6h0M1383.8 750.3h0M1382.3 760.7h0M1380.9 763.5h0M1379.5 765.7h0M1378.0 761.3h0M1376.6 752.1h0M1375.1 757.8h0M1373.7 760.2h0M1372.3 755.4h0M1370.8 749.8h0M1369.4 757.7h0M1367.9 759.4h0M1366.5 754.9h0M1365.0 749.6h0M1363.6 756.2h0M1362.2 752.0h0M1360.7 758.8h0M1359.3 753.6h0M1357.8 761.7h0M1356.4 751.7h0M1354.9 752.9h0M1353.5 761.5h0M1352.1 750.8h0M1350.6 762.7h0M1349.2 753.0h0M1347.7 756.0h0M1346.3 760.5h0M1344.8 762.1h0M1343.4 758.6h0M1341.9 758.0h0M1340.5 759.9h0M1339.0 754.0h0M1337.6 762.6h0M1336.2 758.5h0M1334.7 759.3h0M1333.3 763.1h0M1331.8 757.1h0M1330.4 758.8h0M1328.9 763.9h0M1327.5 759.5h0M1326.1 761.1h0M1324.6 755.9h0M1323.2 762.9h0M1321.7 752.1h0M1320.3 752.3h0M1318.8 754.2h0M1317.4 750.6h0M1316.0 756.2h0M1314.5 763.3h0M1313.1 750.2h0M1311.6 749.8h0M1310.2 754.1h0M1308.8 755.4h0M1307.3 762.1h0M1305.9 752.1h0M1304.5 754.6h0M1303.0 760.7h0M1301.6 758.9h0M1300.1 753.7h0M1298.7 755.1h0M1297.3 753.3h0M1295.8 754.4h0M1294.4 760.4h0M1293.0 755.7h0M1291.5 750.9h0M1290.1 752.6h0M1288.7 748.0h0M1287.3 762.0h0M1285.8 756.8h0M1284.4 750.0h0M1283.0 752.1h0M1281.5 748.4h0M1280.1 759.0h0M1278.7 760.3h0M1277.3 761.2h0M1275.8 753.6h0M1274.4 762.3h0M1273.0 753.0h0M1271.6 753.8h0M1270.2 751.3h0M1268.7 761.3h0M1267.3 755.6h0M1265.9 749.1h0M1264.5 762.3h0M1263.1 754.3h0M1261.7 753.4h0M1260.3 749.6h0M1258.8 753.7h0M1257.4 752.3h0M1256.0 758.8h0M1254.6 757.0h0M1253.2 759.5h0M1251.8 753.4h0M1250.4 758.1h0M1249.0 750.2h0M1247.6 763.8h0M1246.2 750.5h0M1244.8 756.8h0M1243.4 746.6h0M1242.0 760.5h0M1240.6 754.0h0M1239.2 747.9h0M1237.8 763.4h0M1236.4 758.1h0M1235.0 758.2h0M1233.7 760.1h0M1232.3 768.4h0M1230.9 759.8h0M1229.5 762.3h0M1228.1 764.8h0M1226.7 762.3h0M1225.4 768.5h0M1224.0 747.9h0M1222.6 755.4h0M1221.2 751.1h0M1219.9 766.6h0M1218.5 768.7h0M1217.1 757.6h0M1215.8 770.4h0M1214.4 759.4h0M1213.0 763.6h0M1211.7 762.2h0M1210.3 750.6h0M1208.9 760.0h0M1207.6 751.5h0M1206.2 754.0h0M1204.9 768.1h0M1203.5 751.8h0M1202.2 766.7h0M1200.8 761.2h0M1199.5 768.1h0M1198.1 762.5h0M1196.8 750.6h0M1195.5 766.9h0M1194.1 767.2h0M1192.8 762.5h0M1191.4 761.4h0M1190.1 750.0h0M1188.8 772.1h0M1187.4 769.9h0M1186.1 760.0h0M1184.8 772.7h0M1183.5 769.4h0M1182.2 760.0h0M1180.8 765.1h0M1179.5 767.2h0M1178.2 762.6h0M1176.9 761.2h0M1175.6 763.0h0M1174.3 753.5h0M1173.0 746.8h0M1171.7 751.3h0M1170.4 768.8h0M1169.1 761.9h0M1167.8 754.0h0M1166.5 774.5h0M1165.1 768.9h0M1163.8 765.3h0M1162.6 773.2h0M1161.3 767.5h0M1160.0 753.5h0M1158.7 772.9h0M1157.4 772.0h0M1156.1 768.1h0M1154.8 769.3h0M1153.1 739.7h0M1152.2 750.0h0M1150.9 755.9h0M1149.6 759.1h0M1148.3 767.8h0M1147.0 767.8h0M1145.8 778.6h0M1144.5 755.2h0M1143.2 757.3h0M1141.9 760.7h0M1140.6 754.6h0M1139.3 772.5h0M1138.1 755.6h0M1136.8 763.7h0M1135.8 788.3h0M1134.2 754.8h0M1133.0 777.3h0M1131.7 765.2h0M1130.4 773.9h0M1129.1 760.6h0M1127.9 751.9h0M1126.7 737.1h0M1125.3 773.0h0M1124.1 768.5h0M1122.8 768.2h0M1121.5 775.8h0M1120.3 773.1h0M1119.0 763.3h0M1117.7 759.1h0M1116.5 780.8h0M1115.2 772.5h0M1114.0 758.9h0M1112.7 751.8h0M1111.4 774.8h0M1110.2 755.2h0M1108.9 776.6h0M1107.7 753.5h0M1106.4 748.2h0M1105.2 780.6h0M1103.9 766.0h0M1102.8 792.1h0M1101.4 759.0h0M1100.2 764.4h0M1098.9 764.1h0M1097.7 777.7h0M1096.4 759.5h0M1095.2 747.8h0M1093.8 791.4h0M1092.7 773.7h0M1091.5 769.3h0M1090.2 757.9h0M1089.0 760.9h0M1087.8 770.9h0M1086.5 762.5h0M1085.3 775.4h0M1084.1 780.0h0M1082.8 750.8h0M1081.6 747.9h0M1080.4 778.7h0M1079.1 777.5h0M1077.9 764.2h0M1076.7 756.9h0M1075.5 760.4h0M1074.2 745.1h0M1073.0 770.0h0M1071.8 760.8h0M1070.6 763.4h0M1069.4 765.0h0M1068.1 747.1h0M1066.9 754.5h0M1065.1 745.3h0M1064.5 768.1h0M1063.3 751.6h0M1061.8 800.9h0M1060.9 752.6h0M1059.7 779.6h0M1058.4 766.0h0M1057.2 746.6h0M1056.0 766.7h0M1054.8 763.7h0M1053.6 781.4h0M1052.4 744.8h0M1051.2 751.8h0M1050.0 763.3h0M1048.8 761.6h0M1047.6 766.7h0M1046.4 743.7h0M1045.5 735.9h0M1044.0 779.8h0M1042.8 763.6h0M1041.6 743.0h0M1040.5 754.3h0M1039.3 773.6h0M1038.1 763.2h0M1036.9 787.7h0M1035.7 752.7h0M1034.5 781.9h0M1033.3 780.7h0M1031.6 731.5h0M1031.0 766.8h0M1029.8 758.9h0M1028.6 743.5h0M1027.4 766.2h0M1026.3 766.0h0M1025.1 775.2h0M1023.9 772.9h0M1022.7 771.8h0M1021.6 781.4h0M1020.4 785.4h0M1019.2 747.4h0M1018.1 765.9h0M1016.9 748.8h0M1015.7 760.4h0M1014.6 766.8h0M1013.4 758.8h0M1012.2 753.7h0M1011.6 729.0h0M1009.9 740.9h0M1008.8 777.5h0M1007.6 756.6h0M1006.5 740.6h0M1005.3 758.9h0M1004.2 743.6h0M1003.0 762.1h0M1001.9 744.1h0M1000.7 760.1h0M999.6 754.9h0M998.4 774.9h0M997.3 779.7h0M996.1 753.6h0M995.0 778.8h0M993.8 777.2h0M993.0 796.5h0M991.6 773.8h0M990.4 782.0h0M989.3 779.3h0M988.2 761.6h0M987.0 768.6h0M985.9 758.7h0M984.8 754.8h0M983.6 739.2h0M982.5 772.7h0M981.4 781.8h0M980.3 760.3h0" stroke="#0072BD" stroke-width="9.0" stroke-linecap="round" fill="none"/>
<path d="M932.6 566.8H1600.4" stroke="#262626" stroke-width="1.8" fill="none"/><path d="M933.5 566.8v6.5M1081.5 566.8v6.5M1229.5 566.8v6.5M1377.5 566.8v6.5M1525.5 566.8v6.5" stroke="#262626" stroke-width="1.8" fill="none"/><path d="M932.6 949.4H1600.4" stroke="#262626" stroke-width="1.8" fill="none"/><path d="M933.5 949.4v-6.5M1081.5 949.4v-6.5M1229.5 949.4v-6.5M1377.5 949.4v-6.5M1525.5 949.4v-6.5" stroke="#262626" stroke-width="1.8" fill="none"/><path d="M933.5 565.9V950.3" stroke="#262626" stroke-width="1.8" fill="none"/><path d="M933.5 885.63h6.5M933.5 758.1h6.5M933.5 630.57h6.5" stroke="#262626" stroke-width="1.8" fill="none"/><path d="M1599.5 565.9V950.3" stroke="#262626" stroke-width="1.8" fill="none"/><path d="M1599.5 885.63h-6.5M1599.5 758.1h-6.5M1599.5 630.57h-6.5" stroke="#262626" stroke-width="1.8" fill="none"/>
<text x="933.5" y="989.6" text-anchor="middle" fill="#262626">0</text><text x="1081.5" y="989.6" text-anchor="middle" fill="#262626">20</text><text x="1229.5" y="989.6" text-anchor="middle" fill="#262626">40</text><text x="1377.5" y="989.6" text-anchor="middle" fill="#262626">60</text><text x="1525.5" y="989.6" text-anchor="middle" fill="#262626">80</text>
<text x="1264" y="1042.5" text-anchor="middle" fill="#262626">elevation (<tspan font-size="25" dx="1.5" dy="-16">o</tspan><tspan dx="2.5" dy="16">)</tspan></text>
</g>
</svg>
</body></html>
